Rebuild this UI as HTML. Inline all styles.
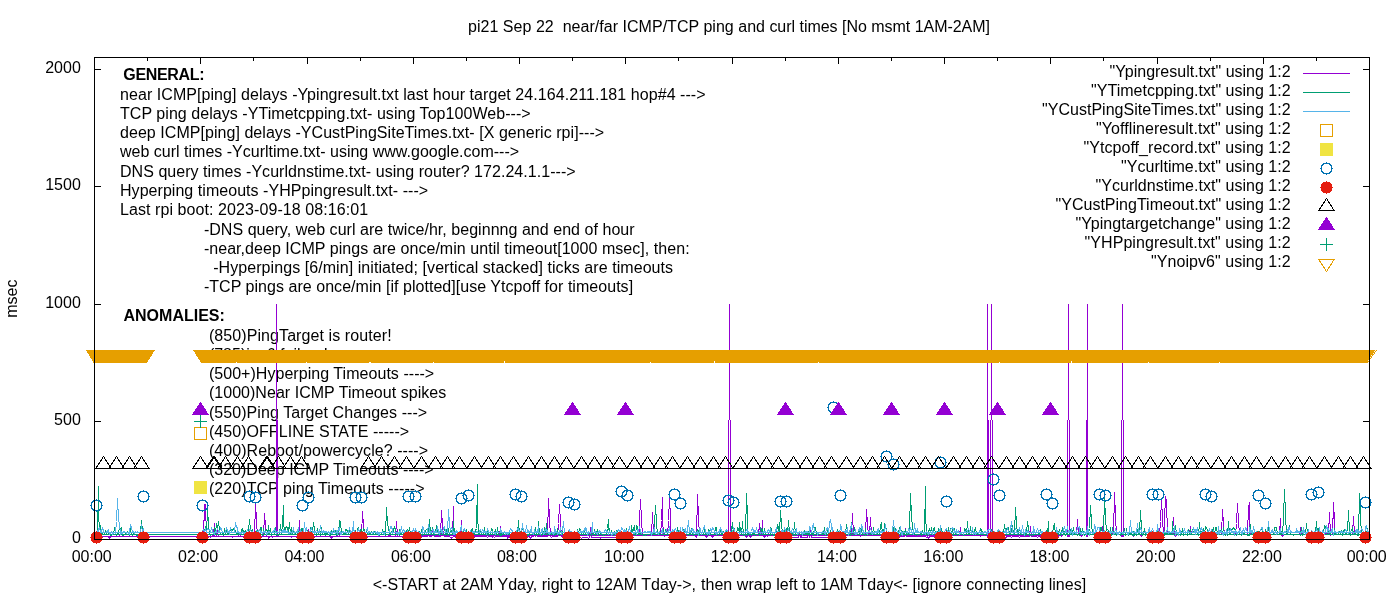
<!DOCTYPE html>
<html lang="en"><head><meta charset="utf-8"><title>pi21 Sep 22 near/far ICMP/TCP ping and curl times</title>
<style>
html,body{margin:0;padding:0;background:#fff;}
body{width:1400px;height:600px;overflow:hidden;}
svg{display:block;}
text{font-family:"Liberation Sans",Arial,sans-serif;font-size:16px;fill:#000;}
.b{font-weight:bold;}
.e{text-anchor:end;}
.m{text-anchor:middle;}
</style></head><body>
<svg width="1400" height="600" viewBox="0 0 1400 600">
<rect x="0" y="0" width="1400" height="600" fill="#fff"/>
<path id="tics" stroke="#000" stroke-width="1" fill="none" shape-rendering="crispEdges" d="M94.5 539.5v-6.5M94.5 57.5v6.5M147.5 539.5v-3.5M147.5 57.5v3.5M200.5 539.5v-6.5M200.5 57.5v6.5M253.5 539.5v-3.5M253.5 57.5v3.5M307.5 539.5v-6.5M307.5 57.5v6.5M360.5 539.5v-3.5M360.5 57.5v3.5M413.5 539.5v-6.5M413.5 57.5v6.5M466.5 539.5v-3.5M466.5 57.5v3.5M519.5 539.5v-6.5M519.5 57.5v6.5M572.5 539.5v-3.5M572.5 57.5v3.5M625.5 539.5v-6.5M625.5 57.5v6.5M678.5 539.5v-3.5M678.5 57.5v3.5M732.5 539.5v-6.5M732.5 57.5v6.5M785.5 539.5v-3.5M785.5 57.5v3.5M838.5 539.5v-6.5M838.5 57.5v6.5M891.5 539.5v-3.5M891.5 57.5v3.5M944.5 539.5v-6.5M944.5 57.5v6.5M997.5 539.5v-3.5M997.5 57.5v3.5M1050.5 539.5v-6.5M1050.5 57.5v6.5M1103.5 539.5v-3.5M1103.5 57.5v3.5M1157.5 539.5v-6.5M1157.5 57.5v6.5M1210.5 539.5v-3.5M1210.5 57.5v3.5M1263.5 539.5v-6.5M1263.5 57.5v6.5M1316.5 539.5v-3.5M1316.5 57.5v3.5M1369.5 539.5v-6.5M1369.5 57.5v6.5M94.5 539.5h6.5M1369.5 539.5h-6.5M94.5 421.5h6.5M1369.5 421.5h-6.5M94.5 304.5h6.5M1369.5 304.5h-6.5M94.5 186.5h6.5M1369.5 186.5h-6.5M94.5 69.5h6.5M1369.5 69.5h-6.5"/>
<g id="labels">
<text x="123.3" y="80" class="b" textLength="81.3" lengthAdjust="spacing">GENERAL:</text>
<text x="120" y="100" textLength="585.6" lengthAdjust="spacing">near ICMP[ping] delays -Ypingresult.txt last hour target 24.164.211.181 hop#4 ---&gt;</text>
<text x="120" y="119" textLength="410.6" lengthAdjust="spacing">TCP ping delays -YTimetcpping.txt- using Top100Web---&gt;</text>
<text x="120" y="138" textLength="484.1" lengthAdjust="spacing">deep ICMP[ping] delays -YCustPingSiteTimes.txt- [X generic rpi]---&gt;</text>
<text x="120" y="157" textLength="399.1" lengthAdjust="spacing">web curl times -Ycurltime.txt- using www.google.com---&gt;</text>
<text x="120" y="177" textLength="455.6" lengthAdjust="spacing">DNS query times -Ycurldnstime.txt- using router? 172.24.1.1---&gt;</text>
<text x="120" y="196" textLength="308.1" lengthAdjust="spacing">Hyperping timeouts -YHPpingresult.txt- ---&gt;</text>
<text x="120" y="215" textLength="248.1" lengthAdjust="spacing">Last rpi boot: 2023-09-18 08:16:01</text>
<text x="203.9" y="235" textLength="430.7" lengthAdjust="spacing">-DNS query, web curl are twice/hr, beginnng and end of hour</text>
<text x="203.9" y="254" textLength="485.7" lengthAdjust="spacing">-near,deep ICMP pings are once/min until timeout[1000 msec], then:</text>
<text x="213.2" y="273" textLength="459.9" lengthAdjust="spacing">-Hyperpings [6/min] initiated; [vertical stacked] ticks are timeouts</text>
<text x="203.9" y="292" textLength="429.2" lengthAdjust="spacing">-TCP pings are once/min [if plotted][use Ytcpoff for timeouts]</text>
<text x="123.5" y="321" class="b">ANOMALIES:</text>
<text x="208.9" y="341" textLength="182.7" lengthAdjust="spacing">(850)PingTarget is router!</text>
<text x="208.9" y="360">(785)ipv6 failure!</text>
<text x="208.9" y="379" textLength="225.3" lengthAdjust="spacing">(500+)Hyperping Timeouts ----&gt;</text>
<text x="208.9" y="398" textLength="237.3" lengthAdjust="spacing">(1000)Near ICMP Timeout spikes</text>
<text x="208.9" y="418" textLength="218.3" lengthAdjust="spacing">(550)Ping Target Changes ---&gt;</text>
<text x="208.9" y="437" textLength="200.3" lengthAdjust="spacing">(450)OFFLINE STATE -----&gt;</text>
<text x="208.9" y="456" textLength="219.2" lengthAdjust="spacing">(400)Reboot/powercycle? ----&gt;</text>
<text x="208.9" y="475" textLength="224.7" lengthAdjust="spacing">(320)Deep ICMP Timeouts ----&gt;</text>
<text x="208.9" y="494" textLength="215.7" lengthAdjust="spacing">(220)TCP ping Timeouts -----&gt;</text>
</g>
<g id="lines" fill="none" stroke-width="1" stroke-linejoin="miter" stroke-miterlimit="2" shape-rendering="crispEdges">
<path id="ping" stroke="#9400d3" d="M200.5 536.5L201.5 536.5L202.5 536.5L203.5 536.5L204.5 504.5L205.5 504.5L206.5 536.5L207.5 536.5L208.5 536.5L209.5 536.5L210.5 537.5L211.5 536.5L212.5 536.5L213.5 534.5L214.5 523.5L214.5 536.5L215.5 536.5L216.5 536.5L217.5 530.5L218.5 536.5L219.5 536.5L220.5 536.5L221.5 536.5L222.5 536.5L223.5 536.5L224.5 536.5L225.5 536.5L226.5 536.5L227.5 536.5L228.5 536.5L229.5 536.5L230.5 536.5L231.5 536.5L232.5 537.5L233.5 536.5L234.5 536.5L235.5 536.5L236.5 536.5L237.5 536.5L238.5 536.5L239.5 533.5L240.5 536.5L241.5 536.5L242.5 536.5L243.5 536.5L244.5 536.5L245.5 536.5L246.5 535.5L247.5 536.5L248.5 536.5L249.5 536.5L250.5 535.5L251.5 536.5L252.5 536.5L253.5 538.5L254.5 536.5L255.5 502.5L256.5 520.5L257.5 536.5L258.5 536.5L259.5 536.5L260.5 536.5L261.5 536.5L262.5 536.5L263.5 536.5L264.5 513.5L265.5 526.5L266.5 536.5L267.5 536.5L268.5 536.5L268.5 538.5L269.5 536.5L270.5 536.5L271.5 536.5L272.5 537.5L273.5 536.5L274.5 536.5L275.5 536.5L276.5 536.5L277.5 536.5L278.5 536.5L279.5 536.5L280.5 536.5L281.5 536.5L282.5 536.5L283.5 536.5L284.5 536.5L285.5 536.5L286.5 536.5L287.5 536.5L288.5 536.5L289.5 536.5L290.5 536.5L291.5 537.5L291.5 536.5L292.5 536.5L293.5 536.5L294.5 536.5L295.5 536.5L296.5 536.5L297.5 536.5L298.5 536.5L299.5 520.5L299.5 536.5L300.5 536.5L301.5 536.5L302.5 536.5L303.5 536.5L304.5 536.5L305.5 536.5L306.5 536.5L307.5 536.5L308.5 529.5L309.5 536.5L310.5 536.5L311.5 536.5L312.5 536.5L313.5 536.5L314.5 536.5L315.5 536.5L316.5 536.5L317.5 536.5L318.5 536.5L319.5 536.5L320.5 536.5L321.5 536.5L322.5 536.5L323.5 536.5L324.5 536.5L325.5 536.5L326.5 536.5L327.5 536.5L328.5 536.5L329.5 536.5L330.5 536.5L331.5 538.5L332.5 536.5L333.5 536.5L334.5 536.5L335.5 536.5L336.5 536.5L337.5 536.5L338.5 527.5L339.5 536.5L340.5 536.5L341.5 536.5L342.5 536.5L343.5 536.5L344.5 536.5L345.5 536.5L346.5 536.5L347.5 536.5L348.5 536.5L349.5 536.5L350.5 536.5L351.5 536.5L352.5 536.5L353.5 536.5L353.5 537.5L354.5 536.5L355.5 538.5L356.5 536.5L357.5 536.5L358.5 536.5L359.5 536.5L360.5 536.5L361.5 536.5L362.5 511.5L363.5 525.5L364.5 536.5L365.5 536.5L366.5 536.5L367.5 536.5L368.5 536.5L369.5 536.5L370.5 536.5L371.5 536.5L372.5 536.5L373.5 536.5L374.5 536.5L375.5 536.5L376.5 536.5L377.5 536.5L378.5 536.5L379.5 536.5L380.5 536.5L381.5 536.5L382.5 536.5L383.5 536.5L384.5 536.5L385.5 536.5L386.5 536.5L387.5 536.5L388.5 535.5L389.5 534.5L390.5 536.5L391.5 536.5L392.5 536.5L393.5 536.5L394.5 536.5L395.5 536.5L396.5 521.5L397.5 536.5L398.5 536.5L399.5 536.5L400.5 536.5L401.5 536.5L402.5 536.5L403.5 536.5L404.5 536.5L405.5 536.5L406.5 536.5L407.5 536.5L408.5 537.5L409.5 536.5L410.5 537.5L411.5 536.5L412.5 536.5L413.5 533.5L414.5 536.5L415.5 536.5L416.5 536.5L417.5 538.5L418.5 536.5L419.5 536.5L420.5 536.5L421.5 536.5L422.5 536.5L423.5 536.5L424.5 536.5L425.5 536.5L426.5 536.5L427.5 536.5L428.5 534.5L429.5 536.5L430.5 533.5L430.5 536.5L431.5 536.5L432.5 528.5L433.5 533.5L434.5 536.5L435.5 536.5L436.5 536.5L437.5 536.5L438.5 536.5L439.5 536.5L440.5 536.5L441.5 510.5L442.5 525.5L443.5 535.5L444.5 536.5L445.5 536.5L446.5 536.5L447.5 536.5L448.5 536.5L449.5 536.5L450.5 537.5L451.5 538.5L452.5 536.5L453.5 506.5L453.5 536.5L454.5 536.5L455.5 536.5L456.5 536.5L457.5 536.5L458.5 536.5L459.5 536.5L460.5 536.5L461.5 520.5L461.5 536.5L462.5 536.5L463.5 536.5L464.5 536.5L465.5 536.5L466.5 536.5L467.5 536.5L468.5 536.5L469.5 535.5L469.5 534.5L470.5 536.5L471.5 536.5L472.5 528.5L473.5 536.5L474.5 536.5L475.5 536.5L476.5 536.5L477.5 536.5L478.5 536.5L479.5 536.5L480.5 536.5L481.5 536.5L482.5 536.5L483.5 536.5L484.5 536.5L485.5 536.5L486.5 536.5L487.5 537.5L488.5 536.5L489.5 536.5L490.5 536.5L491.5 536.5L492.5 537.5L492.5 536.5L493.5 536.5L494.5 537.5L495.5 536.5L496.5 536.5L497.5 536.5L498.5 536.5L499.5 536.5L500.5 526.5L500.5 536.5L501.5 536.5L502.5 536.5L503.5 536.5L504.5 536.5L505.5 536.5L506.5 536.5L507.5 536.5L507.5 538.5L508.5 536.5L509.5 536.5L510.5 536.5L511.5 536.5L512.5 536.5L513.5 536.5L514.5 536.5L515.5 536.5L516.5 536.5L517.5 536.5L518.5 536.5L519.5 536.5L520.5 536.5L521.5 536.5L522.5 537.5L523.5 536.5L524.5 536.5L525.5 536.5L526.5 536.5L527.5 536.5L528.5 536.5L529.5 536.5L530.5 538.5L531.5 536.5L532.5 536.5L533.5 536.5L534.5 534.5L535.5 536.5L536.5 535.5L537.5 536.5L538.5 536.5L539.5 536.5L540.5 536.5L541.5 536.5L542.5 536.5L543.5 536.5L544.5 536.5L545.5 536.5L546.5 536.5L546.5 532.5L547.5 536.5L548.5 498.5L549.5 519.5L550.5 536.5L551.5 537.5L552.5 536.5L553.5 536.5L554.5 536.5L555.5 536.5L556.5 536.5L557.5 536.5L558.5 523.5L559.5 504.5L560.5 522.5L561.5 536.5L562.5 536.5L563.5 537.5L564.5 536.5L565.5 536.5L566.5 536.5L567.5 536.5L568.5 536.5L569.5 536.5L570.5 536.5L571.5 536.5L572.5 537.5L573.5 537.5L574.5 537.5L575.5 537.5L576.5 537.5L577.5 537.5L578.5 537.5L579.5 537.5L580.5 537.5L581.5 538.5L582.5 537.5L583.5 537.5L584.5 537.5L585.5 537.5L586.5 537.5L587.5 537.5L588.5 538.5L589.5 537.5L590.5 527.5L591.5 537.5L592.5 537.5L593.5 537.5L594.5 537.5L595.5 537.5L596.5 537.5L597.5 537.5L598.5 537.5L599.5 537.5L600.5 537.5L600.5 538.5L601.5 537.5L602.5 537.5L603.5 537.5L604.5 537.5L605.5 537.5L606.5 537.5L607.5 537.5L608.5 537.5L609.5 537.5L610.5 537.5L611.5 537.5L612.5 537.5L613.5 537.5L614.5 537.5L615.5 537.5L616.5 538.5L616.5 537.5L617.5 537.5L618.5 537.5L619.5 537.5L620.5 539.5L621.5 537.5L622.5 537.5L623.5 537.5L624.5 537.5L625.5 535.5L626.5 535.5L627.5 535.5L628.5 535.5L629.5 535.5L630.5 535.5L631.5 535.5L632.5 535.5L633.5 535.5L634.5 535.5L635.5 535.5L636.5 535.5L637.5 535.5L638.5 535.5L639.5 535.5L639.5 521.5L640.5 499.5L641.5 519.5L642.5 535.5L643.5 535.5L644.5 535.5L645.5 535.5L646.5 535.5L647.5 535.5L648.5 535.5L649.5 535.5L650.5 535.5L651.5 535.5L652.5 512.5L653.5 535.5L654.5 535.5L655.5 535.5L656.5 535.5L657.5 535.5L658.5 535.5L659.5 535.5L660.5 535.5L661.5 520.5L662.5 497.5L662.5 518.5L663.5 535.5L664.5 536.5L665.5 535.5L666.5 535.5L667.5 535.5L668.5 520.5L669.5 497.5L670.5 518.5L670.5 535.5L671.5 535.5L672.5 535.5L673.5 535.5L674.5 535.5L675.5 535.5L676.5 535.5L677.5 535.5L678.5 535.5L679.5 535.5L680.5 535.5L681.5 535.5L682.5 535.5L683.5 537.5L684.5 535.5L685.5 535.5L686.5 535.5L687.5 535.5L688.5 535.5L689.5 535.5L690.5 535.5L691.5 535.5L692.5 533.5L693.5 535.5L694.5 535.5L695.5 535.5L696.5 537.5L697.5 494.5L698.5 517.5L699.5 535.5L700.5 535.5L701.5 535.5L702.5 535.5L703.5 535.5L704.5 535.5L705.5 535.5L706.5 537.5L707.5 535.5L708.5 535.5L709.5 535.5L710.5 535.5L711.5 535.5L712.5 537.5L713.5 535.5L714.5 535.5L715.5 535.5L716.5 535.5L717.5 535.5L718.5 535.5L719.5 535.5L720.5 535.5L721.5 535.5L722.5 535.5L723.5 535.5L724.5 535.5L725.5 535.5L726.5 535.5L727.5 535.5L728.5 535.5L729.5 535.5L730.5 535.5L731.5 535.5L732.5 535.5L733.5 535.5L734.5 535.5L735.5 535.5L736.5 534.5L737.5 535.5L738.5 535.5L739.5 535.5L740.5 535.5L741.5 535.5L742.5 535.5L743.5 535.5L744.5 535.5L745.5 535.5L746.5 537.5L747.5 535.5L748.5 535.5L749.5 535.5L750.5 537.5L751.5 535.5L752.5 535.5L753.5 535.5L754.5 535.5L755.5 535.5L756.5 535.5L757.5 535.5L758.5 535.5L759.5 523.5L760.5 535.5L761.5 535.5L762.5 520.5L762.5 535.5L763.5 535.5L764.5 537.5L765.5 535.5L766.5 535.5L767.5 536.5L768.5 533.5L769.5 535.5L770.5 535.5L771.5 535.5L772.5 535.5L773.5 535.5L774.5 535.5L775.5 535.5L776.5 535.5L777.5 535.5L778.5 535.5L778.5 537.5L779.5 535.5L780.5 535.5L781.5 535.5L782.5 537.5L783.5 535.5L784.5 535.5L785.5 537.5L786.5 537.5L787.5 537.5L788.5 537.5L789.5 537.5L790.5 537.5L791.5 537.5L792.5 537.5L793.5 537.5L794.5 537.5L795.5 537.5L796.5 537.5L797.5 537.5L798.5 537.5L799.5 533.5L800.5 537.5L801.5 537.5L801.5 536.5L802.5 537.5L803.5 537.5L804.5 537.5L805.5 537.5L806.5 537.5L807.5 537.5L808.5 533.5L809.5 537.5L810.5 528.5L811.5 537.5L812.5 537.5L813.5 537.5L814.5 537.5L815.5 537.5L816.5 537.5L817.5 537.5L818.5 537.5L819.5 537.5L820.5 537.5L821.5 537.5L822.5 537.5L823.5 537.5L824.5 537.5L825.5 537.5L826.5 537.5L827.5 537.5L828.5 537.5L829.5 537.5L830.5 537.5L831.5 537.5L832.5 537.5L833.5 537.5L834.5 537.5L835.5 537.5L836.5 537.5L837.5 537.5L838.5 535.5L839.5 535.5L840.5 536.5L840.5 535.5L841.5 535.5L842.5 535.5L843.5 535.5L844.5 535.5L845.5 535.5L846.5 535.5L847.5 535.5L848.5 535.5L849.5 535.5L850.5 535.5L851.5 535.5L852.5 513.5L853.5 535.5L854.5 535.5L855.5 535.5L856.5 535.5L857.5 535.5L858.5 535.5L859.5 535.5L860.5 536.5L861.5 535.5L862.5 535.5L863.5 535.5L864.5 535.5L865.5 535.5L866.5 509.5L867.5 524.5L868.5 535.5L869.5 535.5L870.5 517.5L871.5 535.5L872.5 535.5L873.5 535.5L874.5 535.5L875.5 535.5L876.5 535.5L877.5 535.5L878.5 535.5L879.5 535.5L880.5 535.5L881.5 535.5L882.5 535.5L883.5 535.5L884.5 535.5L885.5 537.5L886.5 535.5L887.5 535.5L888.5 535.5L889.5 535.5L890.5 535.5L891.5 537.5L892.5 536.5L893.5 536.5L894.5 536.5L895.5 536.5L896.5 536.5L897.5 536.5L898.5 536.5L899.5 536.5L900.5 536.5L901.5 536.5L902.5 536.5L903.5 536.5L904.5 536.5L905.5 528.5L906.5 536.5L907.5 536.5L908.5 536.5L909.5 533.5L909.5 536.5L910.5 536.5L911.5 536.5L912.5 536.5L913.5 536.5L914.5 536.5L915.5 536.5L916.5 536.5L917.5 536.5L918.5 536.5L919.5 536.5L920.5 536.5L921.5 536.5L922.5 536.5L923.5 536.5L924.5 536.5L925.5 536.5L926.5 537.5L927.5 536.5L928.5 538.5L929.5 536.5L930.5 536.5L931.5 536.5L932.5 536.5L933.5 536.5L934.5 536.5L935.5 536.5L936.5 536.5L937.5 536.5L938.5 536.5L939.5 537.5L940.5 536.5L941.5 536.5L942.5 536.5L943.5 536.5L944.5 535.5L945.5 535.5L946.5 535.5L947.5 535.5L948.5 535.5L949.5 535.5L950.5 535.5L951.5 536.5L952.5 527.5L953.5 535.5L954.5 535.5L955.5 533.5L956.5 535.5L957.5 535.5L958.5 535.5L959.5 535.5L960.5 527.5L961.5 535.5L962.5 535.5L963.5 535.5L964.5 535.5L965.5 535.5L966.5 535.5L967.5 535.5L968.5 535.5L969.5 533.5L970.5 535.5L971.5 535.5L972.5 535.5L973.5 535.5L974.5 535.5L975.5 535.5L976.5 535.5L977.5 535.5L978.5 535.5L979.5 535.5L980.5 536.5L981.5 535.5L982.5 535.5L983.5 535.5L984.5 535.5L985.5 535.5L986.5 535.5L987.5 535.5L988.5 535.5L989.5 535.5L990.5 535.5L991.5 535.5L992.5 535.5L993.5 535.5L994.5 535.5L995.5 535.5L996.5 535.5L997.5 536.5L998.5 536.5L999.5 536.5L1000.5 536.5L1001.5 536.5L1002.5 536.5L1003.5 536.5L1004.5 536.5L1005.5 538.5L1006.5 536.5L1007.5 536.5L1008.5 536.5L1009.5 536.5L1010.5 536.5L1011.5 537.5L1012.5 536.5L1013.5 536.5L1014.5 536.5L1015.5 536.5L1016.5 536.5L1017.5 536.5L1018.5 536.5L1019.5 537.5L1020.5 536.5L1021.5 536.5L1022.5 536.5L1023.5 536.5L1024.5 536.5L1025.5 536.5L1026.5 536.5L1027.5 536.5L1028.5 536.5L1029.5 536.5L1030.5 526.5L1031.5 536.5L1032.5 536.5L1033.5 536.5L1034.5 536.5L1035.5 536.5L1036.5 536.5L1037.5 537.5L1038.5 536.5L1039.5 536.5L1040.5 536.5L1041.5 536.5L1042.5 536.5L1043.5 536.5L1044.5 536.5L1045.5 537.5L1046.5 536.5L1047.5 536.5L1048.5 533.5L1048.5 537.5L1049.5 536.5L1050.5 534.5L1051.5 534.5L1052.5 534.5L1053.5 534.5L1054.5 534.5L1055.5 534.5L1056.5 534.5L1057.5 534.5L1058.5 536.5L1059.5 534.5L1060.5 534.5L1061.5 536.5L1062.5 534.5L1063.5 534.5L1064.5 534.5L1065.5 534.5L1066.5 534.5L1067.5 534.5L1068.5 536.5L1069.5 534.5L1070.5 534.5L1071.5 534.5L1072.5 534.5L1073.5 534.5L1074.5 534.5L1075.5 534.5L1076.5 534.5L1077.5 519.5L1078.5 534.5L1079.5 534.5L1080.5 534.5L1081.5 536.5L1082.5 534.5L1083.5 534.5L1084.5 534.5L1085.5 534.5L1086.5 534.5L1087.5 534.5L1088.5 534.5L1089.5 534.5L1090.5 534.5L1091.5 534.5L1092.5 534.5L1093.5 534.5L1094.5 534.5L1095.5 534.5L1096.5 534.5L1097.5 534.5L1098.5 534.5L1099.5 534.5L1100.5 534.5L1101.5 534.5L1102.5 534.5L1102.5 526.5L1103.5 534.5L1104.5 536.5L1105.5 534.5L1106.5 534.5L1107.5 534.5L1108.5 535.5L1109.5 534.5L1110.5 534.5L1111.5 534.5L1112.5 532.5L1113.5 534.5L1114.5 492.5L1115.5 516.5L1116.5 534.5L1117.5 532.5L1118.5 534.5L1119.5 534.5L1120.5 534.5L1121.5 534.5L1122.5 536.5L1123.5 534.5L1124.5 534.5L1125.5 534.5L1126.5 534.5L1127.5 534.5L1128.5 534.5L1129.5 534.5L1130.5 534.5L1131.5 534.5L1132.5 534.5L1133.5 536.5L1133.5 534.5L1134.5 534.5L1135.5 534.5L1136.5 534.5L1137.5 534.5L1138.5 534.5L1139.5 534.5L1140.5 534.5L1141.5 536.5L1141.5 534.5L1142.5 534.5L1143.5 534.5L1144.5 534.5L1145.5 534.5L1146.5 534.5L1147.5 534.5L1148.5 534.5L1149.5 534.5L1150.5 536.5L1151.5 534.5L1152.5 534.5L1153.5 536.5L1154.5 534.5L1155.5 534.5L1156.5 534.5L1157.5 534.5L1158.5 534.5L1159.5 534.5L1160.5 521.5L1161.5 498.5L1162.5 519.5L1163.5 534.5L1164.5 534.5L1164.5 520.5L1165.5 496.5L1166.5 500.5L1167.5 534.5L1168.5 534.5L1169.5 534.5L1170.5 534.5L1171.5 534.5L1172.5 534.5L1173.5 517.5L1174.5 534.5L1175.5 536.5L1176.5 534.5L1177.5 534.5L1178.5 534.5L1179.5 534.5L1180.5 534.5L1181.5 534.5L1182.5 534.5L1183.5 534.5L1184.5 534.5L1185.5 534.5L1186.5 534.5L1187.5 534.5L1188.5 534.5L1189.5 534.5L1190.5 526.5L1191.5 534.5L1192.5 534.5L1193.5 534.5L1194.5 534.5L1195.5 534.5L1196.5 534.5L1197.5 534.5L1198.5 534.5L1199.5 534.5L1200.5 534.5L1201.5 534.5L1202.5 534.5L1203.5 534.5L1204.5 534.5L1205.5 534.5L1206.5 534.5L1207.5 534.5L1208.5 534.5L1209.5 534.5L1210.5 534.5L1211.5 534.5L1212.5 534.5L1213.5 534.5L1214.5 534.5L1215.5 534.5L1216.5 534.5L1217.5 534.5L1218.5 534.5L1219.5 534.5L1220.5 534.5L1221.5 534.5L1222.5 509.5L1223.5 524.5L1224.5 534.5L1225.5 534.5L1226.5 534.5L1227.5 534.5L1228.5 534.5L1229.5 534.5L1230.5 534.5L1231.5 534.5L1232.5 534.5L1233.5 534.5L1234.5 534.5L1235.5 534.5L1236.5 523.5L1237.5 503.5L1238.5 521.5L1239.5 534.5L1240.5 534.5L1241.5 534.5L1242.5 534.5L1243.5 534.5L1244.5 534.5L1245.5 534.5L1246.5 534.5L1247.5 534.5L1248.5 507.5L1249.5 502.5L1249.5 521.5L1250.5 534.5L1251.5 534.5L1252.5 534.5L1253.5 534.5L1254.5 534.5L1255.5 534.5L1256.5 534.5L1257.5 534.5L1258.5 534.5L1259.5 534.5L1260.5 534.5L1261.5 536.5L1262.5 534.5L1263.5 534.5L1264.5 534.5L1265.5 534.5L1266.5 534.5L1267.5 534.5L1268.5 534.5L1269.5 534.5L1270.5 534.5L1271.5 534.5L1272.5 534.5L1273.5 534.5L1274.5 534.5L1275.5 534.5L1276.5 534.5L1277.5 534.5L1278.5 534.5L1279.5 534.5L1280.5 518.5L1280.5 529.5L1281.5 534.5L1282.5 536.5L1283.5 534.5L1284.5 534.5L1285.5 534.5L1286.5 534.5L1287.5 534.5L1288.5 534.5L1289.5 534.5L1290.5 534.5L1291.5 534.5L1292.5 534.5L1293.5 534.5L1294.5 534.5L1295.5 534.5L1296.5 534.5L1297.5 534.5L1298.5 534.5L1299.5 534.5L1300.5 527.5L1301.5 534.5L1302.5 534.5L1303.5 534.5L1304.5 534.5L1305.5 534.5L1306.5 534.5L1307.5 534.5L1308.5 534.5L1309.5 534.5L1310.5 534.5L1311.5 534.5L1312.5 534.5L1313.5 534.5L1314.5 534.5L1315.5 536.5L1316.5 534.5L1317.5 534.5L1318.5 534.5L1319.5 534.5L1320.5 534.5L1321.5 534.5L1322.5 534.5L1323.5 534.5L1324.5 534.5L1325.5 532.5L1326.5 534.5L1327.5 534.5L1328.5 534.5L1329.5 512.5L1330.5 535.5L1331.5 534.5L1332.5 534.5L1333.5 502.5L1334.5 521.5L1334.5 534.5L1335.5 534.5L1336.5 534.5L1337.5 534.5L1338.5 534.5L1339.5 534.5L1340.5 534.5L1341.5 534.5L1342.5 534.5L1343.5 534.5L1344.5 534.5L1345.5 534.5L1346.5 534.5L1347.5 534.5L1348.5 534.5L1349.5 534.5L1350.5 534.5L1351.5 534.5L1352.5 534.5L1353.5 516.5L1354.5 534.5L1355.5 534.5L1356.5 534.5L1357.5 534.5L1357.5 533.5L1358.5 534.5L1359.5 534.5L1360.5 534.5L1361.5 534.5L1362.5 534.5L1363.5 536.5L1364.5 534.5L1365.5 534.5L1366.5 534.5L1367.5 534.5L1368.5 534.5L1369.5 534.5L94.5 536.5L95.5 536.5L96.5 536.5L97.5 534.5L98.5 536.5L98.5 534.5L99.5 537.5L100.5 535.5L101.5 536.5L102.5 536.5L103.5 536.5L104.5 536.5L105.5 536.5L106.5 536.5L107.5 536.5L108.5 536.5L109.5 538.5L110.5 536.5L111.5 536.5L112.5 536.5L113.5 536.5L114.5 536.5L115.5 536.5L116.5 536.5L117.5 536.5L118.5 536.5L119.5 535.5L120.5 536.5L121.5 536.5L122.5 536.5L123.5 536.5L124.5 536.5L125.5 536.5L126.5 536.5L127.5 536.5L128.5 536.5L129.5 536.5L130.5 536.5L131.5 536.5L132.5 536.5L133.5 536.5L134.5 536.5L135.5 536.5L136.5 536.5L137.5 536.5L138.5 538.5L139.5 536.5L140.5 536.5L141.5 536.5L142.5 536.5L143.5 536.5L144.5 536.5L145.5 536.5"/>
<path id="pingto" stroke="#9400d3" d="M276.5 537V304M277.5 537V420M728.5 537V420M729.5 420V304M730.5 537V420M987.5 537V304M988.5 537V420M990.5 537V420M991.5 420V304M992.5 537V420M1067.5 537V420M1068.5 420V304M1069.5 537V420M1087.5 537V304M1086.5 537V420M1121.5 537V420M1122.5 420V304M1123.5 537V420"/>
<path id="tcpping" stroke="#009e73" d="M200.5 534.5L201.5 534.5L202.5 535.5L203.5 535.5L204.5 532.5L205.5 526.5L206.5 534.5L207.5 509.5L208.5 524.5L209.5 534.5L210.5 535.5L211.5 534.5L212.5 534.5L213.5 534.5L214.5 533.5L214.5 527.5L215.5 533.5L216.5 523.5L217.5 529.5L218.5 521.5L219.5 529.5L220.5 534.5L221.5 534.5L222.5 534.5L222.5 531.5L223.5 535.5L224.5 528.5L225.5 533.5L226.5 529.5L227.5 534.5L228.5 533.5L229.5 534.5L229.5 531.5L230.5 530.5L231.5 529.5L232.5 530.5L233.5 528.5L234.5 529.5L235.5 531.5L236.5 534.5L237.5 532.5L237.5 534.5L238.5 533.5L239.5 533.5L240.5 534.5L241.5 530.5L242.5 528.5L243.5 532.5L244.5 532.5L245.5 530.5L245.5 534.5L246.5 534.5L247.5 534.5L248.5 530.5L249.5 519.5L250.5 529.5L251.5 530.5L252.5 529.5L252.5 534.5L253.5 535.5L254.5 534.5L255.5 535.5L256.5 531.5L257.5 530.5L258.5 534.5L259.5 534.5L260.5 534.5L260.5 527.5L261.5 527.5L262.5 535.5L263.5 528.5L264.5 534.5L265.5 531.5L266.5 529.5L267.5 530.5L268.5 534.5L268.5 525.5L269.5 534.5L270.5 528.5L271.5 535.5L272.5 534.5L273.5 534.5L274.5 534.5L275.5 527.5L276.5 534.5L276.5 535.5L277.5 534.5L278.5 535.5L279.5 534.5L280.5 524.5L281.5 534.5L282.5 524.5L283.5 505.5L283.5 522.5L284.5 531.5L285.5 528.5L286.5 526.5L287.5 527.5L288.5 532.5L289.5 522.5L290.5 534.5L291.5 527.5L291.5 534.5L292.5 534.5L293.5 530.5L294.5 532.5L295.5 534.5L296.5 534.5L297.5 534.5L298.5 531.5L299.5 535.5L299.5 534.5L300.5 532.5L301.5 528.5L302.5 528.5L303.5 534.5L304.5 534.5L305.5 529.5L306.5 534.5L307.5 534.5L307.5 530.5L308.5 535.5L309.5 534.5L310.5 527.5L311.5 534.5L312.5 531.5L313.5 522.5L314.5 529.5L314.5 534.5L315.5 534.5L316.5 535.5L317.5 528.5L318.5 534.5L319.5 534.5L320.5 535.5L321.5 527.5L322.5 533.5L322.5 532.5L323.5 531.5L324.5 531.5L325.5 535.5L326.5 531.5L327.5 533.5L328.5 534.5L329.5 535.5L330.5 535.5L331.5 530.5L332.5 534.5L333.5 530.5L334.5 531.5L335.5 530.5L336.5 535.5L337.5 534.5L337.5 533.5L338.5 533.5L339.5 520.5L340.5 522.5L341.5 533.5L342.5 534.5L343.5 533.5L344.5 532.5L345.5 534.5L345.5 529.5L346.5 529.5L347.5 531.5L348.5 534.5L349.5 528.5L350.5 535.5L351.5 535.5L352.5 531.5L353.5 534.5L353.5 535.5L354.5 534.5L355.5 530.5L356.5 534.5L357.5 529.5L358.5 527.5L359.5 534.5L360.5 529.5L361.5 529.5L361.5 534.5L362.5 534.5L363.5 528.5L364.5 529.5L365.5 534.5L366.5 530.5L367.5 533.5L368.5 534.5L368.5 531.5L369.5 534.5L370.5 534.5L371.5 531.5L372.5 534.5L373.5 534.5L374.5 531.5L375.5 534.5L376.5 533.5L376.5 534.5L377.5 533.5L378.5 534.5L379.5 535.5L380.5 534.5L381.5 534.5L382.5 529.5L383.5 533.5L384.5 531.5L384.5 534.5L385.5 535.5L386.5 507.5L387.5 523.5L388.5 527.5L389.5 534.5L390.5 534.5L391.5 531.5L392.5 533.5L392.5 534.5L393.5 530.5L394.5 526.5L395.5 530.5L396.5 531.5L397.5 534.5L398.5 534.5L399.5 535.5L399.5 529.5L400.5 533.5L401.5 533.5L402.5 534.5L403.5 533.5L404.5 534.5L405.5 534.5L406.5 530.5L407.5 529.5L407.5 530.5L408.5 533.5L409.5 527.5L410.5 534.5L411.5 533.5L412.5 533.5L413.5 535.5L414.5 530.5L415.5 529.5L415.5 528.5L416.5 533.5L417.5 534.5L418.5 533.5L419.5 531.5L420.5 534.5L421.5 529.5L422.5 535.5L423.5 534.5L424.5 533.5L425.5 530.5L426.5 529.5L427.5 528.5L428.5 533.5L429.5 519.5L430.5 534.5L431.5 532.5L432.5 527.5L433.5 534.5L434.5 535.5L435.5 533.5L436.5 525.5L437.5 529.5L438.5 533.5L438.5 530.5L439.5 535.5L440.5 529.5L441.5 534.5L442.5 531.5L443.5 528.5L444.5 526.5L445.5 534.5L446.5 535.5L446.5 529.5L447.5 534.5L448.5 528.5L449.5 535.5L450.5 530.5L451.5 530.5L452.5 534.5L453.5 534.5L453.5 521.5L454.5 534.5L455.5 534.5L456.5 530.5L457.5 534.5L458.5 534.5L459.5 534.5L460.5 535.5L461.5 528.5L461.5 530.5L462.5 534.5L463.5 531.5L464.5 533.5L465.5 530.5L466.5 529.5L467.5 534.5L468.5 534.5L469.5 534.5L470.5 534.5L471.5 529.5L472.5 528.5L473.5 535.5L474.5 533.5L475.5 530.5L476.5 528.5L477.5 484.5L477.5 512.5L478.5 534.5L479.5 532.5L480.5 531.5L481.5 534.5L482.5 534.5L483.5 534.5L484.5 527.5L484.5 531.5L485.5 534.5L486.5 535.5L487.5 531.5L488.5 534.5L489.5 535.5L490.5 533.5L491.5 528.5L492.5 529.5L492.5 534.5L493.5 534.5L494.5 533.5L495.5 529.5L496.5 535.5L497.5 527.5L498.5 533.5L499.5 535.5L500.5 535.5L500.5 531.5L501.5 535.5L502.5 534.5L503.5 533.5L504.5 534.5L505.5 534.5L506.5 534.5L507.5 534.5L508.5 534.5L509.5 533.5L510.5 534.5L511.5 534.5L512.5 531.5L513.5 534.5L514.5 534.5L515.5 534.5L516.5 532.5L517.5 534.5L518.5 520.5L519.5 535.5L520.5 534.5L521.5 528.5L522.5 529.5L523.5 529.5L523.5 534.5L524.5 534.5L525.5 534.5L526.5 534.5L527.5 535.5L528.5 535.5L529.5 534.5L530.5 531.5L531.5 530.5L532.5 534.5L533.5 532.5L534.5 534.5L535.5 527.5L536.5 535.5L537.5 534.5L538.5 533.5L538.5 521.5L539.5 533.5L540.5 534.5L541.5 535.5L542.5 532.5L543.5 534.5L544.5 527.5L545.5 534.5L546.5 528.5L546.5 523.5L547.5 534.5L548.5 533.5L549.5 534.5L550.5 532.5L551.5 534.5L552.5 534.5L553.5 534.5L554.5 534.5L554.5 535.5L555.5 531.5L556.5 534.5L557.5 528.5L558.5 534.5L559.5 535.5L560.5 528.5L561.5 534.5L562.5 529.5L562.5 534.5L563.5 535.5L564.5 534.5L565.5 534.5L566.5 535.5L567.5 533.5L568.5 533.5L569.5 529.5L569.5 534.5L570.5 534.5L571.5 533.5L572.5 535.5L573.5 534.5L574.5 534.5L575.5 534.5L576.5 534.5L577.5 534.5L577.5 529.5L578.5 534.5L579.5 528.5L580.5 530.5L581.5 534.5L582.5 534.5L583.5 534.5L584.5 531.5L585.5 533.5L585.5 534.5L586.5 534.5L587.5 534.5L588.5 534.5L589.5 534.5L590.5 534.5L591.5 535.5L592.5 533.5L592.5 534.5L593.5 534.5L594.5 529.5L595.5 535.5L596.5 533.5L597.5 529.5L598.5 534.5L599.5 535.5L600.5 532.5L601.5 534.5L602.5 535.5L603.5 534.5L604.5 535.5L605.5 534.5L606.5 534.5L607.5 528.5L608.5 519.5L608.5 529.5L609.5 528.5L610.5 534.5L611.5 530.5L612.5 534.5L613.5 535.5L614.5 531.5L615.5 532.5L616.5 534.5L616.5 530.5L617.5 531.5L618.5 534.5L619.5 534.5L620.5 533.5L621.5 533.5L622.5 534.5L623.5 535.5L623.5 530.5L624.5 535.5L625.5 535.5L626.5 528.5L627.5 534.5L628.5 534.5L629.5 534.5L630.5 533.5L631.5 534.5L631.5 525.5L632.5 532.5L633.5 528.5L634.5 525.5L635.5 535.5L636.5 525.5L637.5 527.5L638.5 534.5L639.5 534.5L639.5 532.5L640.5 534.5L641.5 533.5L642.5 534.5L643.5 535.5L644.5 535.5L645.5 534.5L646.5 535.5L647.5 534.5L648.5 534.5L649.5 534.5L650.5 534.5L651.5 533.5L652.5 534.5L653.5 533.5L654.5 534.5L654.5 524.5L655.5 505.5L656.5 522.5L657.5 534.5L658.5 532.5L659.5 534.5L660.5 534.5L661.5 534.5L662.5 533.5L662.5 528.5L663.5 529.5L664.5 534.5L665.5 529.5L666.5 531.5L667.5 534.5L668.5 534.5L669.5 535.5L670.5 534.5L671.5 533.5L672.5 529.5L673.5 531.5L674.5 534.5L675.5 534.5L676.5 535.5L677.5 527.5L677.5 535.5L678.5 530.5L679.5 531.5L680.5 535.5L681.5 535.5L682.5 527.5L683.5 530.5L684.5 534.5L685.5 528.5L685.5 530.5L686.5 533.5L687.5 534.5L688.5 535.5L689.5 533.5L690.5 534.5L691.5 528.5L692.5 534.5L693.5 531.5L693.5 535.5L694.5 534.5L695.5 533.5L696.5 533.5L697.5 529.5L698.5 531.5L699.5 535.5L700.5 534.5L701.5 533.5L701.5 534.5L702.5 534.5L703.5 534.5L704.5 529.5L705.5 532.5L706.5 534.5L707.5 535.5L708.5 533.5L708.5 529.5L709.5 531.5L710.5 534.5L711.5 534.5L712.5 534.5L713.5 534.5L714.5 534.5L715.5 527.5L716.5 534.5L716.5 527.5L717.5 535.5L718.5 534.5L719.5 534.5L720.5 530.5L721.5 534.5L722.5 534.5L723.5 531.5L724.5 534.5L725.5 534.5L726.5 531.5L727.5 534.5L728.5 534.5L729.5 534.5L730.5 534.5L731.5 530.5L732.5 522.5L732.5 523.5L733.5 533.5L734.5 528.5L735.5 535.5L736.5 534.5L737.5 527.5L738.5 528.5L739.5 532.5L739.5 522.5L740.5 530.5L741.5 534.5L742.5 521.5L743.5 535.5L744.5 534.5L745.5 535.5L746.5 493.5L747.5 516.5L747.5 535.5L748.5 534.5L749.5 532.5L750.5 534.5L751.5 535.5L752.5 532.5L753.5 533.5L754.5 533.5L755.5 534.5L755.5 535.5L756.5 534.5L757.5 534.5L758.5 534.5L759.5 535.5L760.5 527.5L761.5 530.5L762.5 534.5L762.5 528.5L763.5 533.5L764.5 528.5L765.5 534.5L766.5 534.5L767.5 534.5L768.5 534.5L769.5 534.5L770.5 535.5L770.5 527.5L771.5 528.5L772.5 534.5L773.5 535.5L774.5 535.5L775.5 535.5L776.5 533.5L777.5 524.5L778.5 528.5L778.5 534.5L779.5 533.5L780.5 510.5L781.5 525.5L782.5 531.5L783.5 534.5L784.5 529.5L785.5 534.5L786.5 528.5L786.5 533.5L787.5 534.5L788.5 520.5L789.5 533.5L790.5 534.5L791.5 534.5L792.5 532.5L793.5 534.5L793.5 535.5L794.5 522.5L795.5 535.5L796.5 534.5L797.5 534.5L798.5 533.5L799.5 534.5L800.5 534.5L801.5 534.5L802.5 534.5L803.5 534.5L804.5 530.5L805.5 534.5L806.5 533.5L807.5 534.5L808.5 531.5L809.5 535.5L809.5 534.5L810.5 534.5L811.5 534.5L812.5 532.5L813.5 535.5L814.5 527.5L815.5 527.5L816.5 534.5L817.5 534.5L818.5 534.5L819.5 534.5L820.5 534.5L821.5 534.5L822.5 533.5L823.5 534.5L824.5 527.5L824.5 534.5L825.5 534.5L826.5 535.5L827.5 530.5L828.5 534.5L829.5 534.5L830.5 530.5L831.5 533.5L832.5 535.5L832.5 534.5L833.5 535.5L834.5 534.5L835.5 534.5L836.5 535.5L837.5 529.5L838.5 532.5L839.5 533.5L840.5 534.5L841.5 533.5L842.5 534.5L843.5 534.5L844.5 535.5L845.5 534.5L846.5 524.5L847.5 531.5L847.5 530.5L848.5 534.5L849.5 533.5L850.5 535.5L851.5 522.5L852.5 533.5L853.5 532.5L854.5 527.5L855.5 533.5L855.5 531.5L856.5 533.5L857.5 534.5L858.5 530.5L859.5 534.5L860.5 528.5L861.5 528.5L862.5 534.5L863.5 534.5L863.5 532.5L864.5 535.5L865.5 528.5L866.5 535.5L867.5 533.5L868.5 534.5L869.5 534.5L870.5 533.5L871.5 534.5L872.5 534.5L873.5 527.5L874.5 534.5L875.5 534.5L876.5 534.5L877.5 534.5L878.5 531.5L878.5 528.5L879.5 534.5L880.5 525.5L881.5 522.5L882.5 534.5L883.5 535.5L884.5 523.5L885.5 528.5L886.5 528.5L886.5 534.5L887.5 532.5L888.5 533.5L889.5 534.5L890.5 535.5L891.5 534.5L892.5 535.5L893.5 527.5L894.5 533.5L894.5 534.5L895.5 528.5L896.5 534.5L897.5 534.5L898.5 532.5L899.5 527.5L900.5 535.5L901.5 530.5L902.5 531.5L902.5 534.5L903.5 533.5L904.5 533.5L905.5 529.5L906.5 535.5L907.5 532.5L908.5 534.5L909.5 534.5L909.5 530.5L910.5 493.5L911.5 516.5L912.5 527.5L913.5 531.5L914.5 534.5L915.5 534.5L916.5 535.5L917.5 534.5L918.5 534.5L919.5 534.5L920.5 533.5L921.5 535.5L922.5 530.5L923.5 533.5L924.5 532.5L925.5 486.5L925.5 513.5L926.5 534.5L927.5 535.5L928.5 531.5L929.5 528.5L930.5 532.5L931.5 527.5L932.5 534.5L933.5 529.5L934.5 527.5L935.5 534.5L936.5 532.5L937.5 534.5L938.5 528.5L939.5 529.5L940.5 535.5L940.5 534.5L941.5 528.5L942.5 533.5L943.5 534.5L944.5 535.5L945.5 534.5L946.5 529.5L947.5 534.5L948.5 534.5L948.5 527.5L949.5 533.5L950.5 528.5L951.5 533.5L952.5 529.5L953.5 535.5L954.5 528.5L955.5 534.5L956.5 529.5L956.5 533.5L957.5 535.5L958.5 534.5L959.5 534.5L960.5 534.5L961.5 534.5L962.5 534.5L963.5 534.5L963.5 535.5L964.5 528.5L965.5 530.5L966.5 534.5L967.5 521.5L968.5 534.5L969.5 534.5L970.5 526.5L971.5 534.5L972.5 530.5L973.5 534.5L974.5 530.5L975.5 527.5L976.5 534.5L977.5 533.5L978.5 533.5L979.5 530.5L979.5 532.5L980.5 528.5L981.5 529.5L982.5 533.5L983.5 534.5L984.5 534.5L985.5 535.5L986.5 534.5L987.5 534.5L988.5 535.5L989.5 534.5L990.5 535.5L991.5 529.5L992.5 533.5L993.5 533.5L994.5 535.5L994.5 534.5L995.5 532.5L996.5 533.5L997.5 534.5L998.5 529.5L999.5 531.5L1000.5 534.5L1001.5 534.5L1002.5 534.5L1003.5 534.5L1004.5 524.5L1005.5 530.5L1006.5 528.5L1007.5 528.5L1008.5 527.5L1009.5 534.5L1010.5 534.5L1011.5 531.5L1012.5 525.5L1013.5 534.5L1014.5 534.5L1015.5 507.5L1016.5 523.5L1017.5 533.5L1017.5 534.5L1018.5 534.5L1019.5 528.5L1020.5 533.5L1021.5 534.5L1022.5 534.5L1023.5 534.5L1024.5 534.5L1025.5 535.5L1025.5 532.5L1026.5 533.5L1027.5 521.5L1028.5 527.5L1029.5 535.5L1030.5 534.5L1031.5 535.5L1032.5 534.5L1033.5 535.5L1033.5 534.5L1034.5 534.5L1035.5 534.5L1036.5 534.5L1037.5 534.5L1038.5 533.5L1039.5 534.5L1040.5 529.5L1041.5 535.5L1041.5 533.5L1042.5 533.5L1043.5 534.5L1044.5 534.5L1045.5 534.5L1046.5 530.5L1047.5 535.5L1048.5 521.5L1048.5 534.5L1049.5 534.5L1050.5 534.5L1051.5 533.5L1052.5 533.5L1053.5 527.5L1054.5 523.5L1055.5 535.5L1056.5 533.5L1056.5 531.5L1057.5 534.5L1058.5 533.5L1059.5 529.5L1060.5 535.5L1061.5 532.5L1062.5 527.5L1063.5 534.5L1064.5 531.5L1064.5 533.5L1065.5 535.5L1066.5 532.5L1067.5 534.5L1068.5 534.5L1069.5 533.5L1070.5 529.5L1071.5 534.5L1072.5 535.5L1072.5 533.5L1073.5 527.5L1074.5 534.5L1075.5 533.5L1076.5 534.5L1077.5 535.5L1078.5 534.5L1079.5 535.5L1079.5 533.5L1080.5 528.5L1081.5 534.5L1082.5 528.5L1083.5 533.5L1084.5 535.5L1085.5 534.5L1086.5 531.5L1087.5 534.5L1088.5 534.5L1089.5 528.5L1090.5 505.5L1091.5 522.5L1092.5 534.5L1093.5 530.5L1094.5 534.5L1095.5 534.5L1096.5 534.5L1097.5 533.5L1098.5 533.5L1099.5 534.5L1100.5 527.5L1101.5 527.5L1102.5 534.5L1103.5 532.5L1104.5 497.5L1105.5 518.5L1106.5 530.5L1107.5 529.5L1108.5 530.5L1109.5 534.5L1110.5 534.5L1110.5 527.5L1111.5 535.5L1112.5 527.5L1113.5 533.5L1114.5 534.5L1115.5 533.5L1116.5 535.5L1117.5 534.5L1118.5 534.5L1119.5 534.5L1120.5 535.5L1121.5 533.5L1122.5 534.5L1123.5 534.5L1124.5 528.5L1125.5 535.5L1126.5 528.5L1126.5 530.5L1127.5 534.5L1128.5 535.5L1129.5 533.5L1130.5 534.5L1131.5 532.5L1132.5 535.5L1133.5 535.5L1133.5 531.5L1134.5 535.5L1135.5 534.5L1136.5 535.5L1137.5 529.5L1138.5 533.5L1139.5 533.5L1140.5 510.5L1141.5 529.5L1141.5 534.5L1142.5 535.5L1143.5 534.5L1144.5 528.5L1145.5 535.5L1146.5 534.5L1147.5 535.5L1148.5 535.5L1149.5 534.5L1149.5 535.5L1150.5 535.5L1151.5 531.5L1152.5 534.5L1153.5 533.5L1154.5 534.5L1155.5 532.5L1156.5 533.5L1157.5 530.5L1157.5 533.5L1158.5 534.5L1159.5 535.5L1160.5 535.5L1161.5 535.5L1162.5 534.5L1163.5 534.5L1164.5 535.5L1164.5 530.5L1165.5 534.5L1166.5 534.5L1167.5 532.5L1168.5 534.5L1169.5 534.5L1170.5 532.5L1171.5 534.5L1172.5 527.5L1172.5 521.5L1173.5 533.5L1174.5 528.5L1175.5 525.5L1176.5 534.5L1177.5 532.5L1178.5 534.5L1179.5 534.5L1180.5 533.5L1180.5 535.5L1181.5 534.5L1182.5 528.5L1183.5 535.5L1184.5 534.5L1185.5 533.5L1186.5 534.5L1187.5 534.5L1187.5 535.5L1188.5 529.5L1189.5 533.5L1190.5 529.5L1191.5 534.5L1192.5 529.5L1193.5 532.5L1194.5 529.5L1195.5 534.5L1196.5 531.5L1197.5 534.5L1198.5 535.5L1199.5 522.5L1200.5 534.5L1201.5 532.5L1202.5 529.5L1203.5 528.5L1203.5 531.5L1204.5 533.5L1205.5 526.5L1206.5 528.5L1207.5 529.5L1208.5 534.5L1209.5 532.5L1210.5 534.5L1211.5 534.5L1212.5 530.5L1213.5 527.5L1214.5 534.5L1215.5 527.5L1216.5 527.5L1217.5 534.5L1218.5 531.5L1218.5 529.5L1219.5 534.5L1220.5 530.5L1221.5 529.5L1222.5 534.5L1223.5 527.5L1224.5 534.5L1225.5 535.5L1226.5 530.5L1226.5 534.5L1227.5 535.5L1228.5 521.5L1229.5 533.5L1230.5 534.5L1231.5 529.5L1232.5 529.5L1233.5 527.5L1234.5 528.5L1234.5 529.5L1235.5 529.5L1236.5 535.5L1237.5 534.5L1238.5 534.5L1239.5 533.5L1240.5 534.5L1241.5 535.5L1242.5 534.5L1242.5 533.5L1243.5 532.5L1244.5 534.5L1245.5 534.5L1246.5 534.5L1247.5 535.5L1248.5 535.5L1249.5 535.5L1249.5 528.5L1250.5 524.5L1251.5 534.5L1252.5 532.5L1253.5 534.5L1254.5 529.5L1255.5 534.5L1256.5 534.5L1257.5 534.5L1257.5 531.5L1258.5 534.5L1259.5 532.5L1260.5 529.5L1261.5 528.5L1262.5 531.5L1263.5 533.5L1264.5 533.5L1265.5 534.5L1265.5 529.5L1266.5 532.5L1267.5 532.5L1268.5 526.5L1269.5 535.5L1270.5 534.5L1271.5 534.5L1272.5 534.5L1273.5 534.5L1274.5 527.5L1275.5 527.5L1276.5 527.5L1277.5 533.5L1278.5 534.5L1279.5 533.5L1280.5 534.5L1280.5 529.5L1281.5 533.5L1282.5 534.5L1283.5 517.5L1284.5 489.5L1285.5 514.5L1286.5 534.5L1287.5 533.5L1288.5 528.5L1288.5 531.5L1289.5 525.5L1290.5 534.5L1291.5 534.5L1292.5 534.5L1293.5 535.5L1294.5 534.5L1295.5 534.5L1296.5 534.5L1297.5 534.5L1298.5 534.5L1299.5 534.5L1300.5 535.5L1301.5 527.5L1302.5 535.5L1303.5 534.5L1303.5 533.5L1304.5 534.5L1305.5 534.5L1306.5 523.5L1307.5 534.5L1308.5 535.5L1309.5 534.5L1310.5 534.5L1311.5 533.5L1311.5 534.5L1312.5 534.5L1313.5 534.5L1314.5 533.5L1315.5 533.5L1316.5 521.5L1317.5 533.5L1318.5 528.5L1319.5 535.5L1320.5 531.5L1321.5 534.5L1322.5 532.5L1323.5 532.5L1324.5 525.5L1325.5 527.5L1326.5 526.5L1327.5 529.5L1327.5 534.5L1328.5 530.5L1329.5 534.5L1330.5 533.5L1331.5 534.5L1332.5 534.5L1333.5 535.5L1334.5 528.5L1334.5 532.5L1335.5 534.5L1336.5 534.5L1337.5 534.5L1338.5 534.5L1339.5 531.5L1340.5 534.5L1341.5 530.5L1342.5 534.5L1342.5 535.5L1343.5 531.5L1344.5 529.5L1345.5 534.5L1346.5 534.5L1347.5 531.5L1348.5 510.5L1349.5 533.5L1350.5 535.5L1350.5 534.5L1351.5 531.5L1352.5 527.5L1353.5 534.5L1354.5 532.5L1355.5 533.5L1356.5 534.5L1357.5 535.5L1357.5 529.5L1358.5 535.5L1359.5 493.5L1360.5 516.5L1361.5 534.5L1362.5 534.5L1363.5 535.5L1364.5 535.5L1365.5 534.5L1365.5 532.5L1366.5 533.5L1367.5 528.5L1368.5 534.5L1369.5 534.5L94.5 534.5L95.5 532.5L96.5 534.5L97.5 535.5L98.5 486.5L98.5 513.5L99.5 529.5L100.5 525.5L101.5 533.5L102.5 534.5L103.5 530.5L104.5 534.5L105.5 530.5L106.5 534.5L107.5 534.5L108.5 534.5L109.5 532.5L110.5 535.5L111.5 535.5L112.5 533.5L113.5 533.5L113.5 534.5L114.5 527.5L115.5 534.5L116.5 535.5L117.5 533.5L118.5 533.5L119.5 527.5L120.5 529.5L121.5 534.5L121.5 527.5L122.5 535.5L123.5 535.5L124.5 534.5L125.5 533.5L126.5 534.5L127.5 531.5L128.5 533.5L129.5 535.5L129.5 533.5L130.5 528.5L131.5 534.5L132.5 535.5L133.5 533.5L134.5 534.5L135.5 534.5L136.5 535.5L137.5 534.5L137.5 535.5L138.5 535.5L139.5 535.5L140.5 531.5L141.5 520.5L142.5 530.5L143.5 534.5L144.5 534.5L145.5 534.5"/>
<path id="deepping" stroke="#56b4e9" d="M200.5 532.5L201.5 533.5L202.5 531.5L203.5 529.5L204.5 532.5L205.5 528.5L206.5 533.5L206.5 531.5L207.5 528.5L208.5 529.5L209.5 529.5L210.5 532.5L211.5 527.5L212.5 530.5L213.5 533.5L214.5 532.5L214.5 534.5L215.5 531.5L216.5 531.5L217.5 528.5L218.5 531.5L219.5 532.5L220.5 527.5L221.5 529.5L222.5 532.5L222.5 531.5L223.5 532.5L224.5 532.5L225.5 532.5L226.5 527.5L227.5 531.5L228.5 531.5L229.5 534.5L229.5 533.5L230.5 527.5L231.5 532.5L232.5 532.5L233.5 532.5L234.5 532.5L235.5 522.5L236.5 527.5L237.5 527.5L237.5 532.5L238.5 531.5L239.5 533.5L240.5 533.5L241.5 533.5L242.5 531.5L243.5 532.5L244.5 534.5L245.5 532.5L246.5 532.5L247.5 529.5L248.5 532.5L249.5 529.5L250.5 529.5L251.5 532.5L252.5 531.5L253.5 532.5L254.5 532.5L255.5 531.5L256.5 530.5L257.5 531.5L258.5 531.5L259.5 529.5L260.5 531.5L261.5 531.5L262.5 533.5L263.5 531.5L264.5 531.5L265.5 531.5L266.5 534.5L267.5 533.5L268.5 532.5L268.5 531.5L269.5 531.5L270.5 532.5L271.5 532.5L272.5 531.5L273.5 532.5L274.5 528.5L275.5 531.5L276.5 532.5L276.5 533.5L277.5 531.5L278.5 532.5L279.5 531.5L280.5 529.5L281.5 532.5L282.5 530.5L283.5 531.5L283.5 529.5L284.5 531.5L285.5 530.5L286.5 532.5L287.5 530.5L288.5 533.5L289.5 533.5L290.5 531.5L291.5 533.5L291.5 532.5L292.5 532.5L293.5 527.5L294.5 533.5L295.5 532.5L296.5 532.5L297.5 530.5L298.5 527.5L299.5 533.5L300.5 529.5L301.5 532.5L302.5 531.5L303.5 534.5L304.5 522.5L305.5 532.5L306.5 527.5L307.5 533.5L307.5 531.5L308.5 533.5L309.5 531.5L310.5 531.5L311.5 527.5L312.5 532.5L313.5 531.5L314.5 533.5L314.5 531.5L315.5 531.5L316.5 530.5L317.5 531.5L318.5 531.5L319.5 532.5L320.5 525.5L321.5 531.5L322.5 531.5L323.5 530.5L324.5 532.5L325.5 531.5L326.5 531.5L327.5 532.5L328.5 531.5L329.5 534.5L330.5 531.5L330.5 532.5L331.5 533.5L332.5 533.5L333.5 528.5L334.5 531.5L335.5 533.5L336.5 530.5L337.5 534.5L337.5 532.5L338.5 528.5L339.5 527.5L340.5 534.5L341.5 534.5L342.5 531.5L343.5 531.5L344.5 532.5L345.5 532.5L345.5 531.5L346.5 533.5L347.5 532.5L348.5 532.5L349.5 527.5L350.5 532.5L351.5 531.5L352.5 532.5L353.5 521.5L353.5 530.5L354.5 530.5L355.5 533.5L356.5 532.5L357.5 531.5L358.5 528.5L359.5 532.5L360.5 532.5L361.5 532.5L362.5 532.5L363.5 534.5L364.5 531.5L365.5 534.5L366.5 531.5L367.5 527.5L368.5 533.5L368.5 532.5L369.5 531.5L370.5 532.5L371.5 532.5L372.5 533.5L373.5 531.5L374.5 532.5L375.5 531.5L376.5 532.5L376.5 533.5L377.5 531.5L378.5 535.5L379.5 533.5L380.5 532.5L381.5 532.5L382.5 531.5L383.5 532.5L384.5 534.5L384.5 532.5L385.5 532.5L386.5 532.5L387.5 532.5L388.5 532.5L389.5 531.5L390.5 526.5L391.5 526.5L392.5 530.5L392.5 533.5L393.5 532.5L394.5 532.5L395.5 532.5L396.5 533.5L397.5 533.5L398.5 534.5L399.5 532.5L399.5 531.5L400.5 532.5L401.5 526.5L402.5 532.5L403.5 529.5L404.5 531.5L405.5 531.5L406.5 533.5L407.5 530.5L407.5 532.5L408.5 531.5L409.5 533.5L410.5 533.5L411.5 531.5L412.5 531.5L413.5 528.5L414.5 532.5L415.5 534.5L415.5 528.5L416.5 532.5L417.5 534.5L418.5 531.5L419.5 533.5L420.5 532.5L421.5 532.5L422.5 533.5L422.5 526.5L423.5 528.5L424.5 531.5L425.5 532.5L426.5 533.5L427.5 531.5L428.5 524.5L429.5 529.5L430.5 533.5L431.5 532.5L432.5 529.5L433.5 529.5L434.5 533.5L435.5 531.5L436.5 531.5L437.5 526.5L438.5 532.5L438.5 533.5L439.5 534.5L440.5 528.5L441.5 529.5L442.5 533.5L443.5 527.5L444.5 526.5L445.5 531.5L446.5 532.5L447.5 532.5L448.5 509.5L449.5 524.5L450.5 530.5L451.5 527.5L452.5 528.5L453.5 534.5L453.5 531.5L454.5 534.5L455.5 532.5L456.5 530.5L457.5 532.5L458.5 533.5L459.5 533.5L460.5 529.5L461.5 525.5L461.5 532.5L462.5 532.5L463.5 529.5L464.5 528.5L465.5 532.5L466.5 532.5L467.5 532.5L468.5 533.5L469.5 533.5L470.5 530.5L471.5 534.5L472.5 531.5L473.5 531.5L474.5 531.5L475.5 532.5L476.5 531.5L477.5 532.5L477.5 531.5L478.5 532.5L479.5 531.5L480.5 529.5L481.5 532.5L482.5 529.5L483.5 531.5L484.5 531.5L485.5 531.5L486.5 534.5L487.5 528.5L488.5 532.5L489.5 532.5L490.5 531.5L491.5 532.5L492.5 532.5L492.5 531.5L493.5 532.5L494.5 533.5L495.5 534.5L496.5 531.5L497.5 531.5L498.5 532.5L499.5 532.5L500.5 531.5L500.5 528.5L501.5 532.5L502.5 533.5L503.5 532.5L504.5 531.5L505.5 534.5L506.5 532.5L507.5 532.5L507.5 534.5L508.5 533.5L509.5 532.5L510.5 528.5L511.5 529.5L512.5 531.5L513.5 533.5L514.5 532.5L515.5 533.5L516.5 532.5L517.5 528.5L518.5 528.5L519.5 532.5L520.5 534.5L521.5 532.5L522.5 523.5L523.5 533.5L523.5 528.5L524.5 533.5L525.5 533.5L526.5 525.5L527.5 532.5L528.5 530.5L529.5 532.5L530.5 531.5L531.5 526.5L531.5 531.5L532.5 532.5L533.5 534.5L534.5 529.5L535.5 532.5L536.5 531.5L537.5 531.5L538.5 526.5L538.5 531.5L539.5 533.5L540.5 534.5L541.5 530.5L542.5 528.5L543.5 534.5L544.5 532.5L545.5 528.5L546.5 531.5L546.5 529.5L547.5 531.5L548.5 532.5L549.5 534.5L550.5 533.5L551.5 531.5L552.5 532.5L553.5 534.5L554.5 532.5L554.5 526.5L555.5 531.5L556.5 531.5L557.5 534.5L558.5 532.5L559.5 533.5L560.5 527.5L561.5 534.5L562.5 531.5L563.5 521.5L564.5 534.5L565.5 532.5L566.5 532.5L567.5 533.5L568.5 531.5L569.5 529.5L569.5 531.5L570.5 531.5L571.5 531.5L572.5 532.5L573.5 532.5L574.5 531.5L575.5 533.5L576.5 533.5L577.5 530.5L577.5 531.5L578.5 532.5L579.5 533.5L580.5 530.5L581.5 532.5L582.5 531.5L583.5 532.5L584.5 528.5L585.5 530.5L585.5 527.5L586.5 528.5L587.5 535.5L588.5 531.5L589.5 532.5L590.5 533.5L591.5 532.5L592.5 522.5L592.5 531.5L593.5 532.5L594.5 531.5L595.5 531.5L596.5 532.5L597.5 534.5L598.5 531.5L599.5 530.5L600.5 532.5L601.5 533.5L602.5 532.5L603.5 532.5L604.5 531.5L605.5 529.5L606.5 530.5L607.5 532.5L608.5 533.5L608.5 534.5L609.5 531.5L610.5 532.5L611.5 535.5L612.5 534.5L613.5 532.5L614.5 532.5L615.5 534.5L616.5 531.5L617.5 530.5L618.5 529.5L619.5 531.5L620.5 532.5L621.5 527.5L622.5 528.5L623.5 531.5L623.5 533.5L624.5 529.5L625.5 531.5L626.5 530.5L627.5 532.5L628.5 531.5L629.5 526.5L630.5 533.5L631.5 533.5L631.5 532.5L632.5 532.5L633.5 533.5L634.5 533.5L635.5 530.5L636.5 534.5L637.5 529.5L638.5 532.5L639.5 526.5L640.5 531.5L641.5 533.5L642.5 532.5L643.5 532.5L644.5 531.5L645.5 531.5L646.5 532.5L647.5 531.5L648.5 531.5L649.5 531.5L650.5 531.5L651.5 535.5L652.5 532.5L653.5 531.5L654.5 527.5L654.5 531.5L655.5 533.5L656.5 531.5L657.5 533.5L658.5 534.5L659.5 531.5L660.5 532.5L661.5 532.5L662.5 528.5L662.5 533.5L663.5 532.5L664.5 532.5L665.5 532.5L666.5 529.5L667.5 532.5L668.5 532.5L669.5 526.5L670.5 534.5L670.5 531.5L671.5 533.5L672.5 529.5L673.5 531.5L674.5 529.5L675.5 528.5L676.5 531.5L677.5 531.5L677.5 534.5L678.5 532.5L679.5 532.5L680.5 527.5L681.5 534.5L682.5 527.5L683.5 532.5L684.5 529.5L685.5 528.5L685.5 531.5L686.5 533.5L687.5 529.5L688.5 520.5L689.5 532.5L690.5 530.5L691.5 530.5L692.5 528.5L693.5 533.5L693.5 529.5L694.5 532.5L695.5 533.5L696.5 533.5L697.5 531.5L698.5 535.5L699.5 528.5L700.5 528.5L701.5 534.5L702.5 531.5L703.5 528.5L704.5 525.5L705.5 532.5L706.5 532.5L707.5 534.5L708.5 532.5L708.5 531.5L709.5 534.5L710.5 528.5L711.5 531.5L712.5 527.5L713.5 528.5L714.5 531.5L715.5 533.5L716.5 534.5L716.5 531.5L717.5 533.5L718.5 531.5L719.5 531.5L720.5 527.5L721.5 531.5L722.5 531.5L723.5 532.5L724.5 532.5L725.5 531.5L726.5 529.5L727.5 531.5L728.5 532.5L729.5 532.5L730.5 531.5L731.5 532.5L732.5 532.5L733.5 527.5L734.5 531.5L735.5 533.5L736.5 532.5L737.5 532.5L738.5 532.5L739.5 532.5L739.5 534.5L740.5 531.5L741.5 530.5L742.5 531.5L743.5 533.5L744.5 532.5L745.5 532.5L746.5 529.5L747.5 531.5L747.5 529.5L748.5 532.5L749.5 533.5L750.5 533.5L751.5 531.5L752.5 527.5L753.5 531.5L754.5 530.5L755.5 532.5L756.5 527.5L757.5 532.5L758.5 532.5L759.5 531.5L760.5 533.5L761.5 532.5L762.5 533.5L762.5 532.5L763.5 531.5L764.5 531.5L765.5 531.5L766.5 532.5L767.5 531.5L768.5 529.5L769.5 532.5L770.5 528.5L770.5 532.5L771.5 531.5L772.5 533.5L773.5 532.5L774.5 533.5L775.5 530.5L776.5 527.5L777.5 533.5L778.5 532.5L778.5 531.5L779.5 532.5L780.5 534.5L781.5 530.5L782.5 530.5L783.5 533.5L784.5 527.5L785.5 531.5L786.5 532.5L786.5 531.5L787.5 532.5L788.5 528.5L789.5 533.5L790.5 531.5L791.5 531.5L792.5 528.5L793.5 531.5L793.5 533.5L794.5 531.5L795.5 532.5L796.5 528.5L797.5 534.5L798.5 532.5L799.5 531.5L800.5 532.5L801.5 531.5L801.5 532.5L802.5 535.5L803.5 531.5L804.5 533.5L805.5 531.5L806.5 531.5L807.5 531.5L808.5 532.5L809.5 531.5L809.5 526.5L810.5 527.5L811.5 532.5L812.5 527.5L813.5 523.5L814.5 531.5L815.5 532.5L816.5 532.5L817.5 533.5L817.5 535.5L818.5 532.5L819.5 532.5L820.5 532.5L821.5 533.5L822.5 531.5L823.5 530.5L824.5 531.5L824.5 533.5L825.5 534.5L826.5 528.5L827.5 527.5L828.5 532.5L829.5 523.5L830.5 519.5L831.5 526.5L832.5 532.5L832.5 527.5L833.5 532.5L834.5 532.5L835.5 532.5L836.5 531.5L837.5 531.5L838.5 532.5L839.5 532.5L840.5 527.5L840.5 524.5L841.5 527.5L842.5 534.5L843.5 531.5L844.5 531.5L845.5 530.5L846.5 532.5L847.5 527.5L847.5 530.5L848.5 535.5L849.5 531.5L850.5 529.5L851.5 523.5L852.5 531.5L853.5 532.5L854.5 533.5L855.5 534.5L855.5 529.5L856.5 534.5L857.5 533.5L858.5 531.5L859.5 527.5L860.5 534.5L861.5 524.5L862.5 528.5L863.5 532.5L863.5 533.5L864.5 533.5L865.5 532.5L866.5 533.5L867.5 534.5L868.5 531.5L869.5 531.5L870.5 528.5L871.5 531.5L871.5 533.5L872.5 534.5L873.5 532.5L874.5 533.5L875.5 531.5L876.5 533.5L877.5 529.5L878.5 528.5L878.5 531.5L879.5 532.5L880.5 532.5L881.5 530.5L882.5 531.5L883.5 531.5L884.5 532.5L885.5 524.5L886.5 532.5L886.5 535.5L887.5 533.5L888.5 531.5L889.5 533.5L890.5 533.5L891.5 533.5L892.5 532.5L893.5 520.5L894.5 531.5L894.5 533.5L895.5 530.5L896.5 529.5L897.5 532.5L898.5 532.5L899.5 531.5L900.5 526.5L901.5 534.5L902.5 535.5L902.5 534.5L903.5 531.5L904.5 532.5L905.5 532.5L906.5 531.5L907.5 533.5L908.5 528.5L909.5 533.5L909.5 531.5L910.5 527.5L911.5 531.5L912.5 532.5L913.5 534.5L914.5 523.5L915.5 531.5L916.5 531.5L917.5 528.5L917.5 531.5L918.5 531.5L919.5 532.5L920.5 531.5L921.5 531.5L922.5 532.5L923.5 533.5L924.5 532.5L925.5 534.5L926.5 531.5L927.5 532.5L928.5 534.5L929.5 532.5L930.5 531.5L931.5 533.5L932.5 534.5L932.5 530.5L933.5 532.5L934.5 532.5L935.5 534.5L936.5 531.5L937.5 532.5L938.5 531.5L939.5 533.5L940.5 525.5L940.5 529.5L941.5 532.5L942.5 535.5L943.5 534.5L944.5 532.5L945.5 529.5L946.5 528.5L947.5 531.5L948.5 533.5L948.5 531.5L949.5 531.5L950.5 529.5L951.5 528.5L952.5 527.5L953.5 529.5L954.5 531.5L955.5 531.5L956.5 533.5L956.5 529.5L957.5 532.5L958.5 530.5L959.5 534.5L960.5 532.5L961.5 533.5L962.5 532.5L963.5 532.5L963.5 534.5L964.5 531.5L965.5 531.5L966.5 530.5L967.5 531.5L968.5 528.5L969.5 531.5L970.5 532.5L971.5 533.5L971.5 532.5L972.5 527.5L973.5 534.5L974.5 533.5L975.5 534.5L976.5 532.5L977.5 532.5L978.5 533.5L979.5 530.5L979.5 531.5L980.5 533.5L981.5 533.5L982.5 533.5L983.5 533.5L984.5 531.5L985.5 531.5L986.5 532.5L987.5 534.5L987.5 531.5L988.5 529.5L989.5 529.5L990.5 529.5L991.5 532.5L992.5 533.5L993.5 533.5L994.5 533.5L994.5 531.5L995.5 533.5L996.5 532.5L997.5 531.5L998.5 529.5L999.5 531.5L1000.5 531.5L1001.5 534.5L1002.5 532.5L1002.5 531.5L1003.5 532.5L1004.5 532.5L1005.5 529.5L1006.5 533.5L1007.5 527.5L1008.5 532.5L1009.5 532.5L1010.5 532.5L1010.5 529.5L1011.5 521.5L1012.5 532.5L1013.5 533.5L1014.5 531.5L1015.5 528.5L1016.5 531.5L1017.5 532.5L1017.5 533.5L1018.5 531.5L1019.5 527.5L1020.5 532.5L1021.5 533.5L1022.5 525.5L1023.5 531.5L1024.5 535.5L1025.5 529.5L1026.5 532.5L1027.5 530.5L1028.5 532.5L1029.5 532.5L1030.5 532.5L1031.5 532.5L1032.5 531.5L1033.5 533.5L1033.5 526.5L1034.5 531.5L1035.5 533.5L1036.5 532.5L1037.5 528.5L1038.5 531.5L1039.5 530.5L1040.5 531.5L1041.5 533.5L1041.5 531.5L1042.5 531.5L1043.5 533.5L1044.5 532.5L1045.5 531.5L1046.5 533.5L1047.5 533.5L1048.5 534.5L1048.5 533.5L1049.5 532.5L1050.5 532.5L1051.5 531.5L1052.5 531.5L1053.5 534.5L1054.5 532.5L1055.5 534.5L1056.5 531.5L1056.5 527.5L1057.5 532.5L1058.5 532.5L1059.5 531.5L1060.5 532.5L1061.5 533.5L1062.5 532.5L1063.5 529.5L1064.5 527.5L1064.5 526.5L1065.5 531.5L1066.5 532.5L1067.5 526.5L1068.5 532.5L1069.5 530.5L1070.5 533.5L1071.5 528.5L1072.5 535.5L1072.5 532.5L1073.5 533.5L1074.5 531.5L1075.5 533.5L1076.5 533.5L1077.5 527.5L1078.5 527.5L1079.5 526.5L1079.5 532.5L1080.5 532.5L1081.5 534.5L1082.5 531.5L1083.5 534.5L1084.5 531.5L1085.5 532.5L1086.5 534.5L1087.5 526.5L1087.5 531.5L1088.5 529.5L1089.5 535.5L1090.5 531.5L1091.5 532.5L1092.5 533.5L1093.5 533.5L1094.5 524.5L1095.5 527.5L1095.5 533.5L1096.5 533.5L1097.5 527.5L1098.5 527.5L1099.5 527.5L1100.5 533.5L1101.5 532.5L1102.5 531.5L1103.5 532.5L1104.5 530.5L1105.5 532.5L1106.5 534.5L1107.5 531.5L1108.5 533.5L1109.5 531.5L1110.5 533.5L1110.5 531.5L1111.5 531.5L1112.5 531.5L1113.5 534.5L1114.5 533.5L1115.5 528.5L1116.5 532.5L1117.5 534.5L1118.5 534.5L1118.5 532.5L1119.5 531.5L1120.5 533.5L1121.5 532.5L1122.5 533.5L1123.5 533.5L1124.5 531.5L1125.5 532.5L1126.5 531.5L1127.5 534.5L1128.5 534.5L1129.5 531.5L1130.5 520.5L1131.5 532.5L1132.5 531.5L1133.5 532.5L1133.5 533.5L1134.5 531.5L1135.5 533.5L1136.5 533.5L1137.5 523.5L1138.5 531.5L1139.5 532.5L1140.5 527.5L1141.5 531.5L1142.5 533.5L1143.5 532.5L1144.5 532.5L1145.5 531.5L1146.5 533.5L1147.5 532.5L1148.5 531.5L1149.5 527.5L1149.5 533.5L1150.5 531.5L1151.5 531.5L1152.5 528.5L1153.5 531.5L1154.5 533.5L1155.5 533.5L1156.5 531.5L1157.5 529.5L1157.5 524.5L1158.5 531.5L1159.5 531.5L1160.5 531.5L1161.5 534.5L1162.5 532.5L1163.5 533.5L1164.5 531.5L1164.5 532.5L1165.5 532.5L1166.5 532.5L1167.5 527.5L1168.5 533.5L1169.5 531.5L1170.5 532.5L1171.5 531.5L1172.5 532.5L1172.5 531.5L1173.5 531.5L1174.5 526.5L1175.5 535.5L1176.5 531.5L1177.5 532.5L1178.5 535.5L1179.5 528.5L1180.5 531.5L1180.5 533.5L1181.5 532.5L1182.5 532.5L1183.5 532.5L1184.5 528.5L1185.5 533.5L1186.5 532.5L1187.5 531.5L1187.5 530.5L1188.5 532.5L1189.5 532.5L1190.5 533.5L1191.5 532.5L1192.5 532.5L1193.5 527.5L1194.5 531.5L1195.5 534.5L1195.5 529.5L1196.5 531.5L1197.5 527.5L1198.5 533.5L1199.5 532.5L1200.5 529.5L1201.5 527.5L1202.5 531.5L1203.5 532.5L1203.5 531.5L1204.5 531.5L1205.5 531.5L1206.5 532.5L1207.5 531.5L1208.5 532.5L1209.5 528.5L1210.5 533.5L1211.5 529.5L1211.5 531.5L1212.5 533.5L1213.5 530.5L1214.5 535.5L1215.5 532.5L1216.5 533.5L1217.5 532.5L1218.5 534.5L1218.5 526.5L1219.5 533.5L1220.5 532.5L1221.5 530.5L1222.5 533.5L1223.5 535.5L1224.5 531.5L1225.5 532.5L1226.5 534.5L1226.5 529.5L1227.5 533.5L1228.5 528.5L1229.5 532.5L1230.5 528.5L1231.5 532.5L1232.5 531.5L1233.5 531.5L1234.5 535.5L1234.5 531.5L1235.5 530.5L1236.5 532.5L1237.5 534.5L1238.5 531.5L1239.5 532.5L1240.5 527.5L1241.5 533.5L1242.5 534.5L1242.5 531.5L1243.5 528.5L1244.5 532.5L1245.5 527.5L1246.5 529.5L1247.5 532.5L1248.5 532.5L1249.5 532.5L1249.5 527.5L1250.5 531.5L1251.5 530.5L1252.5 533.5L1253.5 526.5L1254.5 531.5L1255.5 533.5L1256.5 531.5L1257.5 532.5L1258.5 531.5L1259.5 534.5L1260.5 531.5L1261.5 527.5L1262.5 527.5L1263.5 533.5L1264.5 533.5L1265.5 531.5L1265.5 533.5L1266.5 533.5L1267.5 533.5L1268.5 521.5L1269.5 531.5L1270.5 533.5L1271.5 531.5L1272.5 529.5L1272.5 531.5L1273.5 531.5L1274.5 533.5L1275.5 530.5L1276.5 534.5L1277.5 532.5L1278.5 532.5L1279.5 531.5L1280.5 528.5L1280.5 532.5L1281.5 532.5L1282.5 532.5L1283.5 534.5L1284.5 531.5L1285.5 531.5L1286.5 530.5L1287.5 531.5L1288.5 527.5L1288.5 532.5L1289.5 527.5L1290.5 532.5L1291.5 531.5L1292.5 532.5L1293.5 532.5L1294.5 532.5L1295.5 531.5L1296.5 532.5L1296.5 528.5L1297.5 531.5L1298.5 531.5L1299.5 531.5L1300.5 533.5L1301.5 531.5L1302.5 532.5L1303.5 527.5L1303.5 533.5L1304.5 530.5L1305.5 534.5L1306.5 532.5L1307.5 532.5L1308.5 529.5L1309.5 534.5L1310.5 534.5L1311.5 530.5L1311.5 532.5L1312.5 531.5L1313.5 533.5L1314.5 531.5L1315.5 533.5L1316.5 528.5L1317.5 531.5L1318.5 531.5L1319.5 533.5L1319.5 527.5L1320.5 533.5L1321.5 533.5L1322.5 530.5L1323.5 531.5L1324.5 534.5L1325.5 531.5L1326.5 525.5L1327.5 531.5L1327.5 527.5L1328.5 528.5L1329.5 532.5L1330.5 532.5L1331.5 530.5L1332.5 528.5L1333.5 535.5L1334.5 530.5L1334.5 531.5L1335.5 531.5L1336.5 533.5L1337.5 532.5L1338.5 531.5L1339.5 532.5L1340.5 531.5L1341.5 531.5L1342.5 532.5L1342.5 531.5L1343.5 533.5L1344.5 532.5L1345.5 529.5L1346.5 531.5L1347.5 532.5L1348.5 533.5L1349.5 531.5L1350.5 532.5L1350.5 531.5L1351.5 532.5L1352.5 531.5L1353.5 533.5L1354.5 532.5L1355.5 531.5L1356.5 529.5L1357.5 533.5L1357.5 529.5L1358.5 531.5L1359.5 531.5L1360.5 531.5L1361.5 528.5L1362.5 529.5L1363.5 532.5L1364.5 534.5L1365.5 533.5L1365.5 527.5L1366.5 525.5L1367.5 531.5L1368.5 531.5L1369.5 532.5L94.5 532.5L95.5 533.5L96.5 534.5L97.5 532.5L98.5 528.5L98.5 532.5L99.5 527.5L100.5 532.5L101.5 531.5L102.5 527.5L103.5 531.5L104.5 532.5L105.5 532.5L106.5 531.5L106.5 532.5L107.5 531.5L108.5 529.5L109.5 534.5L110.5 532.5L111.5 531.5L112.5 534.5L113.5 532.5L113.5 533.5L114.5 532.5L115.5 533.5L116.5 521.5L117.5 498.5L118.5 519.5L119.5 523.5L120.5 534.5L121.5 531.5L121.5 533.5L122.5 533.5L123.5 531.5L124.5 531.5L125.5 532.5L126.5 533.5L127.5 532.5L128.5 532.5L129.5 534.5L129.5 532.5L130.5 524.5L131.5 527.5L132.5 532.5L133.5 531.5L134.5 533.5L135.5 531.5L136.5 532.5L137.5 531.5L137.5 532.5L138.5 532.5L139.5 533.5L140.5 533.5L141.5 524.5L142.5 533.5L143.5 528.5L144.5 535.5L144.5 534.5L145.5 532.5"/>
</g>
<defs>
<path id="ci" d="M-0.5 -6.5h1v1h-1zM-3.5 -5.5h7v1h-7zM-4.5 -4.5h2v1h-2zM2.5 -4.5h2v1h-2zM-5.5 -3.5h2v1h-2zM3.5 -3.5h2v1h-2zM-5.5 -2.5h1v1h-1zM4.5 -2.5h1v1h-1zM-5.5 -1.5h1v1h-1zM4.5 -1.5h1v1h-1zM-6.5 -0.5h2v1h-2zM4.5 -0.5h2v1h-2zM-5.5 0.5h1v1h-1zM4.5 0.5h1v1h-1zM-5.5 1.5h1v1h-1zM4.5 1.5h1v1h-1zM-5.5 2.5h2v1h-2zM3.5 2.5h2v1h-2zM-4.5 3.5h2v1h-2zM2.5 3.5h2v1h-2zM-3.5 4.5h7v1h-7zM-0.5 5.5h1v1h-1z"/>
<path id="di" d="M-0.5 -6.5h1v1h-1zM-3.5 -5.5h7v1h-7zM-4.5 -4.5h9v1h-9zM-5.5 -3.5h11v1h-11zM-5.5 -2.5h11v1h-11zM-5.5 -1.5h11v1h-11zM-6.5 -0.5h13v1h-13zM-5.5 0.5h11v1h-11zM-5.5 1.5h11v1h-11zM-5.5 2.5h11v1h-11zM-4.5 3.5h9v1h-9zM-3.5 4.5h7v1h-7zM-0.5 5.5h1v1h-1z"/>
<path id="tri" d="M0 -8L7.7 4H-7.7Z"/>
<path id="inv" d="M0 8L7.7 -4H-7.7Z"/>
</defs>
<rect x="194.5" y="427.5" width="12" height="12" fill="none" stroke="#e69f00" stroke-width="1" shape-rendering="crispEdges"/>
<rect x="194" y="481" width="13" height="13" fill="#f0e442" shape-rendering="crispEdges"/>
<g id="curl" fill="#0072b2" stroke="none" shape-rendering="crispEdges">
<use href="#ci" x="96.5" y="505.5"/>
<use href="#ci" x="143.5" y="496.5"/>
<use href="#ci" x="202.5" y="505.5"/>
<use href="#ci" x="249.5" y="496.5"/>
<use href="#ci" x="255.5" y="497.5"/>
<use href="#ci" x="302.5" y="505.5"/>
<use href="#ci" x="308.5" y="497.5"/>
<use href="#ci" x="355.5" y="497.5"/>
<use href="#ci" x="361.5" y="497.5"/>
<use href="#ci" x="408.5" y="496.5"/>
<use href="#ci" x="415.5" y="496.5"/>
<use href="#ci" x="461.5" y="498.5"/>
<use href="#ci" x="468.5" y="495.5"/>
<use href="#ci" x="515.5" y="494.5"/>
<use href="#ci" x="521.5" y="496.5"/>
<use href="#ci" x="568.5" y="502.5"/>
<use href="#ci" x="574.5" y="504.5"/>
<use href="#ci" x="621.5" y="491.5"/>
<use href="#ci" x="627.5" y="495.5"/>
<use href="#ci" x="674.5" y="494.5"/>
<use href="#ci" x="680.5" y="503.5"/>
<use href="#ci" x="728.5" y="500.5"/>
<use href="#ci" x="733.5" y="502.5"/>
<use href="#ci" x="780.5" y="501.5"/>
<use href="#ci" x="786.5" y="501.5"/>
<use href="#ci" x="833.5" y="407.5"/>
<use href="#ci" x="840.5" y="495.5"/>
<use href="#ci" x="886.5" y="456.5"/>
<use href="#ci" x="893.5" y="464.5"/>
<use href="#ci" x="940.5" y="462.5"/>
<use href="#ci" x="946.5" y="501.5"/>
<use href="#ci" x="993.5" y="479.5"/>
<use href="#ci" x="999.5" y="495.5"/>
<use href="#ci" x="1046.5" y="494.5"/>
<use href="#ci" x="1052.5" y="503.5"/>
<use href="#ci" x="1099.5" y="494.5"/>
<use href="#ci" x="1105.5" y="495.5"/>
<use href="#ci" x="1152.5" y="494.5"/>
<use href="#ci" x="1158.5" y="494.5"/>
<use href="#ci" x="1205.5" y="494.5"/>
<use href="#ci" x="1211.5" y="496.5"/>
<use href="#ci" x="1258.5" y="495.5"/>
<use href="#ci" x="1265.5" y="503.5"/>
<use href="#ci" x="1311.5" y="494.5"/>
<use href="#ci" x="1318.5" y="492.5"/>
<use href="#ci" x="1365.5" y="502.5"/>
</g>
<g id="dns" fill="#e51e10" stroke="none" shape-rendering="crispEdges">
<use href="#di" x="96.5" y="537.5"/>
<use href="#di" x="143.5" y="537.5"/>
<use href="#di" x="202.5" y="537.5"/>
<use href="#di" x="249.5" y="537.5"/>
<use href="#di" x="255.5" y="537.5"/>
<use href="#di" x="302.5" y="537.5"/>
<use href="#di" x="308.5" y="537.5"/>
<use href="#di" x="355.5" y="537.5"/>
<use href="#di" x="361.5" y="537.5"/>
<use href="#di" x="408.5" y="537.5"/>
<use href="#di" x="415.5" y="537.5"/>
<use href="#di" x="461.5" y="537.5"/>
<use href="#di" x="468.5" y="537.5"/>
<use href="#di" x="515.5" y="537.5"/>
<use href="#di" x="521.5" y="537.5"/>
<use href="#di" x="568.5" y="537.5"/>
<use href="#di" x="574.5" y="537.5"/>
<use href="#di" x="621.5" y="537.5"/>
<use href="#di" x="627.5" y="537.5"/>
<use href="#di" x="674.5" y="537.5"/>
<use href="#di" x="680.5" y="537.5"/>
<use href="#di" x="728.5" y="537.5"/>
<use href="#di" x="733.5" y="537.5"/>
<use href="#di" x="780.5" y="537.5"/>
<use href="#di" x="786.5" y="537.5"/>
<use href="#di" x="833.5" y="537.5"/>
<use href="#di" x="840.5" y="537.5"/>
<use href="#di" x="886.5" y="537.5"/>
<use href="#di" x="893.5" y="537.5"/>
<use href="#di" x="940.5" y="537.5"/>
<use href="#di" x="946.5" y="537.5"/>
<use href="#di" x="993.5" y="537.5"/>
<use href="#di" x="999.5" y="537.5"/>
<use href="#di" x="1046.5" y="537.5"/>
<use href="#di" x="1052.5" y="537.5"/>
<use href="#di" x="1099.5" y="537.5"/>
<use href="#di" x="1105.5" y="537.5"/>
<use href="#di" x="1152.5" y="537.5"/>
<use href="#di" x="1158.5" y="537.5"/>
<use href="#di" x="1205.5" y="537.5"/>
<use href="#di" x="1211.5" y="537.5"/>
<use href="#di" x="1258.5" y="537.5"/>
<use href="#di" x="1265.5" y="537.5"/>
<use href="#di" x="1311.5" y="537.5"/>
<use href="#di" x="1318.5" y="537.5"/>
<use href="#di" x="1365.5" y="537.5"/>
</g>
<g id="dtimeout" fill="none" stroke="#000" stroke-width="1" stroke-linejoin="miter" shape-rendering="crispEdges">
<use href="#tri" x="103.5" y="464.5"/>
<use href="#tri" x="116.5" y="464.5"/>
<use href="#tri" x="129.5" y="464.5"/>
<use href="#tri" x="141.5" y="464.5"/>
<use href="#tri" x="200.5" y="464.5"/>
<use href="#tri" x="213.5" y="464.5"/>
<use href="#tri" x="214.5" y="464.5"/>
<use href="#tri" x="225.5" y="464.5"/>
<use href="#tri" x="237.5" y="464.5"/>
<use href="#tri" x="248.5" y="464.5"/>
<use href="#tri" x="266.5" y="464.5"/>
<use href="#tri" x="267.5" y="464.5"/>
<use href="#tri" x="278.5" y="464.5"/>
<use href="#tri" x="290.5" y="464.5"/>
<use href="#tri" x="301.5" y="464.5"/>
<use href="#tri" x="368.5" y="464.5"/>
<use href="#tri" x="381.5" y="464.5"/>
<use href="#tri" x="394.5" y="464.5"/>
<use href="#tri" x="406.5" y="464.5"/>
<use href="#tri" x="421.5" y="464.5"/>
<use href="#tri" x="435.5" y="464.5"/>
<use href="#tri" x="447.5" y="464.5"/>
<use href="#tri" x="459.5" y="464.5"/>
<use href="#tri" x="474.5" y="464.5"/>
<use href="#tri" x="488.5" y="464.5"/>
<use href="#tri" x="500.5" y="464.5"/>
<use href="#tri" x="513.5" y="464.5"/>
<use href="#tri" x="528.5" y="464.5"/>
<use href="#tri" x="541.5" y="464.5"/>
<use href="#tri" x="554.5" y="464.5"/>
<use href="#tri" x="566.5" y="464.5"/>
<use href="#tri" x="581.5" y="464.5"/>
<use href="#tri" x="594.5" y="464.5"/>
<use href="#tri" x="607.5" y="464.5"/>
<use href="#tri" x="619.5" y="464.5"/>
<use href="#tri" x="634.5" y="464.5"/>
<use href="#tri" x="647.5" y="464.5"/>
<use href="#tri" x="660.5" y="464.5"/>
<use href="#tri" x="672.5" y="464.5"/>
<use href="#tri" x="687.5" y="464.5"/>
<use href="#tri" x="700.5" y="464.5"/>
<use href="#tri" x="713.5" y="464.5"/>
<use href="#tri" x="725.5" y="464.5"/>
<use href="#tri" x="740.5" y="464.5"/>
<use href="#tri" x="753.5" y="464.5"/>
<use href="#tri" x="766.5" y="464.5"/>
<use href="#tri" x="778.5" y="464.5"/>
<use href="#tri" x="793.5" y="464.5"/>
<use href="#tri" x="806.5" y="464.5"/>
<use href="#tri" x="819.5" y="464.5"/>
<use href="#tri" x="831.5" y="464.5"/>
<use href="#tri" x="846.5" y="464.5"/>
<use href="#tri" x="860.5" y="464.5"/>
<use href="#tri" x="872.5" y="464.5"/>
<use href="#tri" x="884.5" y="464.5"/>
<use href="#tri" x="899.5" y="464.5"/>
<use href="#tri" x="913.5" y="464.5"/>
<use href="#tri" x="925.5" y="464.5"/>
<use href="#tri" x="938.5" y="464.5"/>
<use href="#tri" x="953.5" y="464.5"/>
<use href="#tri" x="966.5" y="464.5"/>
<use href="#tri" x="979.5" y="464.5"/>
<use href="#tri" x="991.5" y="464.5"/>
<use href="#tri" x="1006.5" y="464.5"/>
<use href="#tri" x="1019.5" y="464.5"/>
<use href="#tri" x="1032.5" y="464.5"/>
<use href="#tri" x="1044.5" y="464.5"/>
<use href="#tri" x="1059.5" y="464.5"/>
<use href="#tri" x="1072.5" y="464.5"/>
<use href="#tri" x="1085.5" y="464.5"/>
<use href="#tri" x="1097.5" y="464.5"/>
<use href="#tri" x="1112.5" y="464.5"/>
<use href="#tri" x="1125.5" y="464.5"/>
<use href="#tri" x="1138.5" y="464.5"/>
<use href="#tri" x="1150.5" y="464.5"/>
<use href="#tri" x="1165.5" y="464.5"/>
<use href="#tri" x="1178.5" y="464.5"/>
<use href="#tri" x="1191.5" y="464.5"/>
<use href="#tri" x="1203.5" y="464.5"/>
<use href="#tri" x="1218.5" y="464.5"/>
<use href="#tri" x="1231.5" y="464.5"/>
<use href="#tri" x="1244.5" y="464.5"/>
<use href="#tri" x="1256.5" y="464.5"/>
<use href="#tri" x="1271.5" y="464.5"/>
<use href="#tri" x="1285.5" y="464.5"/>
<use href="#tri" x="1297.5" y="464.5"/>
<use href="#tri" x="1309.5" y="464.5"/>
<use href="#tri" x="1324.5" y="464.5"/>
<use href="#tri" x="1338.5" y="464.5"/>
<use href="#tri" x="1350.5" y="464.5"/>
<use href="#tri" x="1363.5" y="464.5"/>
</g>
<g id="ptc" fill="#9400d3" stroke="#9400d3" stroke-width="1" shape-rendering="crispEdges">
<use href="#tri" x="200.5" y="410.5"/>
<use href="#tri" x="572.5" y="410.5"/>
<use href="#tri" x="625.5" y="410.5"/>
<use href="#tri" x="785.5" y="410.5"/>
<use href="#tri" x="838.5" y="410.5"/>
<use href="#tri" x="891.5" y="410.5"/>
<use href="#tri" x="944.5" y="410.5"/>
<use href="#tri" x="997.5" y="410.5"/>
<use href="#tri" x="1050.5" y="410.5"/>
</g>
<path d="M194 421.5h13M200.5 415v13" stroke="#009e73" stroke-width="1" fill="none" shape-rendering="crispEdges"/>
<g id="noipv6" fill="none" stroke="#e69f00" stroke-width="1" shape-rendering="crispEdges">
<path fill="#e69f00" stroke="none" d="M85.9 350H155L146.9 363H93.6Z"/>
<path fill="#e69f00" stroke="none" d="M193 350H1377L1368 363H201.2Z"/>
<path fill="#fff" stroke="none" d="M235.3 363.2L236.3 361.2L237.3 363.2ZM305.3 363.2L306.3 361.2L307.3 363.2ZM369 363.2L370 361.2L371 363.2ZM432.8 363.2L433.8 361.2L434.8 363.2ZM503.5 363.2L504.5 361.2L505.5 363.2ZM649.8 363.2L650.8 361.2L651.8 363.2ZM713.5 363.2L714.5 361.2L715.5 363.2ZM817.3 363.2L818.3 361.2L819.3 363.2ZM998.3 363.2L999.3 361.2L1000.3 363.2ZM1070.4 363.2L1071.4 361.2L1072.4 363.2ZM1147.3 363.2L1148.3 361.2L1149.3 363.2ZM1218.3 363.2L1219.3 361.2L1220.3 363.2Z"/>
<path stroke="#fff" stroke-width="0.9" stroke-dasharray="1.6 1.2" d="M1375.2 350.4L1367.4 362.4"/>
</g>
<rect x="94.5" y="57.5" width="1275" height="482" stroke="#000" stroke-width="1" fill="none"/>
<g id="ticlabels">
<text class="e" x="80.8" y="543">0</text>
<text class="e" x="80.8" y="425">500</text>
<text class="e" x="80.8" y="308">1000</text>
<text class="e" x="80.8" y="190">1500</text>
<text class="e" x="80.8" y="73">2000</text>
<text class="m" x="91.7" y="562">00:00</text>
<text class="m" x="198.1" y="562">02:00</text>
<text class="m" x="304.5" y="562">04:00</text>
<text class="m" x="410.9" y="562">06:00</text>
<text class="m" x="517" y="562">08:00</text>
<text class="m" x="624.1" y="562">10:00</text>
<text class="m" x="730.8" y="562">12:00</text>
<text class="m" x="837" y="562">14:00</text>
<text class="m" x="943.3" y="562">16:00</text>
<text class="m" x="1049.5" y="562">18:00</text>
<text class="m" x="1155.7" y="562">20:00</text>
<text class="m" x="1261.9" y="562">22:00</text>
<text class="m" x="1366.7" y="562">00:00</text>
</g>
<text x="468" y="32" textLength="297" lengthAdjust="spacing">pi21 Sep 22  near/far ICMP/TCP ping and</text>
<text class="e" x="990" y="32" textLength="220.6" lengthAdjust="spacing">curl times [No msmt 1AM-2AM]</text>
<text x="372.75" y="589.5" textLength="323.2" lengthAdjust="spacing">&lt;-START at 2AM Yday, right to 12AM Tday-&gt;,</text>
<text class="e" x="1086.25" y="589.5" textLength="385.3" lengthAdjust="spacing">then wrap left to 1AM Tday&lt;- [ignore connecting lines]</text>
<text class="m" transform="translate(17.3 298.6) rotate(-90)">msec</text>
<g id="key" shape-rendering="crispEdges">
<text class="e" x="1290.6" y="77.4" textLength="181" lengthAdjust="spacing">"Ypingresult.txt" using 1:2</text>
<path d="M1303.1 73.5H1349.8" stroke="#9400d3" stroke-width="1" fill="none"/>
<text class="e" x="1290.6" y="96.4" textLength="199.5" lengthAdjust="spacing">"YTimetcpping.txt" using 1:2</text>
<path d="M1303.1 92.5H1349.8" stroke="#009e73" stroke-width="1" fill="none"/>
<text class="e" x="1290.6" y="115.4" textLength="248.5" lengthAdjust="spacing">"YCustPingSiteTimes.txt" using 1:2</text>
<path d="M1303.1 111.5H1349.8" stroke="#56b4e9" stroke-width="1" fill="none"/>
<text class="e" x="1290.6" y="134.4" textLength="194.5" lengthAdjust="spacing">"Yofflineresult.txt" using 1:2</text>
<rect x="1320.5" y="124.5" width="12" height="12" fill="none" stroke="#e69f00" stroke-width="1"/>
<text class="e" x="1290.6" y="153.4" textLength="207" lengthAdjust="spacing">"Ytcpoff_record.txt" using 1:2</text>
<rect x="1320" y="143" width="13" height="13" fill="#f0e442"/>
<text class="e" x="1290.6" y="172.4" textLength="169.5" lengthAdjust="spacing">"Ycurltime.txt" using 1:2</text>
<use href="#ci" x="1326.5" y="168.5" fill="#0072b2" shape-rendering="crispEdges"/>
<text class="e" x="1290.6" y="191.4" textLength="195" lengthAdjust="spacing">"Ycurldnstime.txt" using 1:2</text>
<use href="#di" x="1326.5" y="187.5" fill="#e51e10" shape-rendering="crispEdges"/>
<text class="e" x="1290.6" y="210.4" textLength="235" lengthAdjust="spacing">"YCustPingTimeout.txt" using 1:2</text>
<use href="#tri" x="1326.5" y="206.5" fill="none" stroke="#000" stroke-width="1"/>
<text class="e" x="1290.6" y="229.4" textLength="215" lengthAdjust="spacing">"Ypingtargetchange" using 1:2</text>
<use href="#tri" x="1326.5" y="225.5" fill="#9400d3" stroke="#9400d3" stroke-width="1"/>
<text class="e" x="1290.6" y="248.4" textLength="206" lengthAdjust="spacing">"YHPpingresult.txt" using 1:2</text>
<path d="M1320 244.5h13M1326.5 238v13" stroke="#009e73" stroke-width="1" fill="none"/>
<text class="e" x="1290.6" y="267.4" textLength="139.5" lengthAdjust="spacing">"Ynoipv6" using 1:2</text>
<use href="#inv" x="1326.5" y="263.5" fill="none" stroke="#e69f00" stroke-width="1"/>
</g>
</svg>
</body></html>
